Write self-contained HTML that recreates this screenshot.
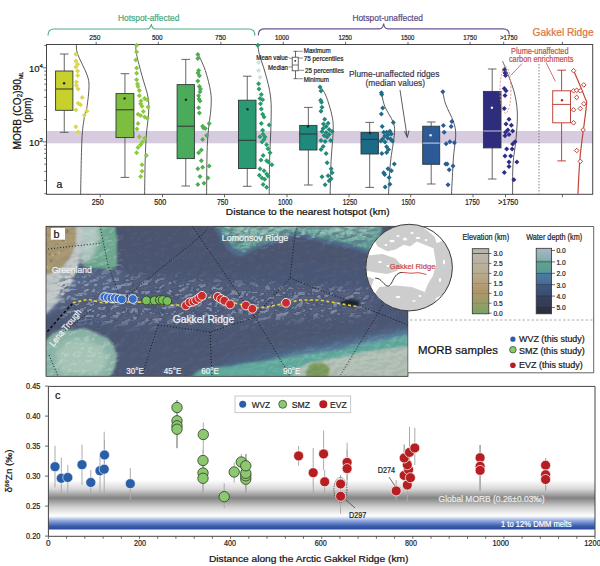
<!DOCTYPE html>
<html><head><meta charset="utf-8"><style>
html,body{margin:0;padding:0;background:#fff;width:600px;height:566px;overflow:hidden}
svg{display:block}
text{font-family:"Liberation Sans",sans-serif}
</style></head><body>
<svg width="600" height="566" viewBox="0 0 600 566">
<rect width="600" height="566" fill="#fff"/>
<rect x="46.5" y="131" width="546.2" height="12.3" fill="#d6cbdf"/>
<rect x="46.5" y="44.5" width="546.2" height="149.8" fill="none" stroke="#444" stroke-width="1"/>
<line x1="96.2" y1="41.8" x2="96.2" y2="44.5" stroke="#444" stroke-width="0.8"/>
<text x="94.8" y="40" font-size="7.6" text-anchor="middle" fill="#222" stroke="#222" stroke-width="0.22" textLength="11" lengthAdjust="spacingAndGlyphs" >250</text>
<line x1="158.3" y1="41.8" x2="158.3" y2="44.5" stroke="#444" stroke-width="0.8"/>
<text x="157.3" y="40" font-size="7.6" text-anchor="middle" fill="#222" stroke="#222" stroke-width="0.22" textLength="10.6" lengthAdjust="spacingAndGlyphs" >500</text>
<line x1="220.9" y1="41.8" x2="220.9" y2="44.5" stroke="#444" stroke-width="0.8"/>
<text x="220.5" y="40" font-size="7.6" text-anchor="middle" fill="#222" stroke="#222" stroke-width="0.22" textLength="11" lengthAdjust="spacingAndGlyphs" >750</text>
<line x1="283.3" y1="41.8" x2="283.3" y2="44.5" stroke="#444" stroke-width="0.8"/>
<text x="282" y="40" font-size="7.6" text-anchor="middle" fill="#222" stroke="#222" stroke-width="0.22" textLength="14" lengthAdjust="spacingAndGlyphs" >1000</text>
<line x1="345.6" y1="41.8" x2="345.6" y2="44.5" stroke="#444" stroke-width="0.8"/>
<text x="345.2" y="40" font-size="7.6" text-anchor="middle" fill="#222" stroke="#222" stroke-width="0.22" textLength="13.6" lengthAdjust="spacingAndGlyphs" >1250</text>
<line x1="408" y1="41.8" x2="408" y2="44.5" stroke="#444" stroke-width="0.8"/>
<text x="407.7" y="40" font-size="7.6" text-anchor="middle" fill="#222" stroke="#222" stroke-width="0.22" textLength="13.4" lengthAdjust="spacingAndGlyphs" >1500</text>
<line x1="470" y1="41.8" x2="470" y2="44.5" stroke="#444" stroke-width="0.8"/>
<text x="470" y="40" font-size="7.6" text-anchor="middle" fill="#222" stroke="#222" stroke-width="0.22" textLength="13.6" lengthAdjust="spacingAndGlyphs" >1750</text>
<line x1="503.7" y1="41.8" x2="503.7" y2="44.5" stroke="#444" stroke-width="0.8"/>
<text x="508.7" y="40" font-size="7.6" text-anchor="middle" fill="#222" stroke="#222" stroke-width="0.22" textLength="17.5" lengthAdjust="spacingAndGlyphs" >&gt;1750</text>
<line x1="562.4" y1="41.8" x2="562.4" y2="44.5" stroke="#444" stroke-width="0.8"/>
<line x1="100.3" y1="194.3" x2="100.3" y2="197.3" stroke="#444" stroke-width="0.8"/>
<text x="97.7" y="204.5" font-size="8.6" text-anchor="middle" fill="#222" stroke="#222" stroke-width="0.22" textLength="12" lengthAdjust="spacingAndGlyphs" >250</text>
<line x1="162.5" y1="194.3" x2="162.5" y2="197.3" stroke="#444" stroke-width="0.8"/>
<text x="160.3" y="204.5" font-size="8.6" text-anchor="middle" fill="#222" stroke="#222" stroke-width="0.22" textLength="12" lengthAdjust="spacingAndGlyphs" >500</text>
<line x1="224.5" y1="194.3" x2="224.5" y2="197.3" stroke="#444" stroke-width="0.8"/>
<text x="222.7" y="204.5" font-size="8.6" text-anchor="middle" fill="#222" stroke="#222" stroke-width="0.22" textLength="11.3" lengthAdjust="spacingAndGlyphs" >750</text>
<line x1="287" y1="194.3" x2="287" y2="197.3" stroke="#444" stroke-width="0.8"/>
<text x="285.2" y="204.5" font-size="8.6" text-anchor="middle" fill="#222" stroke="#222" stroke-width="0.22" textLength="14.5" lengthAdjust="spacingAndGlyphs" >1000</text>
<line x1="349" y1="194.3" x2="349" y2="197.3" stroke="#444" stroke-width="0.8"/>
<text x="350" y="204.5" font-size="8.6" text-anchor="middle" fill="#222" stroke="#222" stroke-width="0.22" textLength="14.5" lengthAdjust="spacingAndGlyphs" >1250</text>
<line x1="410.7" y1="194.3" x2="410.7" y2="197.3" stroke="#444" stroke-width="0.8"/>
<text x="408.3" y="204.5" font-size="8.6" text-anchor="middle" fill="#222" stroke="#222" stroke-width="0.22" textLength="13.5" lengthAdjust="spacingAndGlyphs" >1500</text>
<line x1="473" y1="194.3" x2="473" y2="197.3" stroke="#444" stroke-width="0.8"/>
<text x="472.5" y="204.5" font-size="8.6" text-anchor="middle" fill="#222" stroke="#222" stroke-width="0.22" textLength="14.5" lengthAdjust="spacingAndGlyphs" >1750</text>
<line x1="505.5" y1="194.3" x2="505.5" y2="197.3" stroke="#444" stroke-width="0.8"/>
<text x="508.3" y="204.5" font-size="8.6" text-anchor="middle" fill="#222" stroke="#222" stroke-width="0.22" textLength="20" lengthAdjust="spacingAndGlyphs" >&gt;1750</text>
<line x1="562.4" y1="194.3" x2="562.4" y2="197.3" stroke="#444" stroke-width="0.8"/>
<text x="225.8" y="215" font-size="9.6" text-anchor="start" fill="#111" stroke="#111" stroke-width="0.22" textLength="163.8" lengthAdjust="spacingAndGlyphs" >Distance to the nearest hotspot (km)</text>
<line x1="44.3" y1="193.7" x2="46.5" y2="193.7" stroke="#444" stroke-width="0.8"/>
<line x1="44.3" y1="180.6" x2="46.5" y2="180.6" stroke="#444" stroke-width="0.8"/>
<line x1="44.3" y1="171.4" x2="46.5" y2="171.4" stroke="#444" stroke-width="0.8"/>
<line x1="44.3" y1="164.2" x2="46.5" y2="164.2" stroke="#444" stroke-width="0.8"/>
<line x1="44.3" y1="158.3" x2="46.5" y2="158.3" stroke="#444" stroke-width="0.8"/>
<line x1="44.3" y1="153.4" x2="46.5" y2="153.4" stroke="#444" stroke-width="0.8"/>
<line x1="44.3" y1="149.1" x2="46.5" y2="149.1" stroke="#444" stroke-width="0.8"/>
<line x1="44.3" y1="145.3" x2="46.5" y2="145.3" stroke="#444" stroke-width="0.8"/>
<line x1="43.0" y1="141.9" x2="46.5" y2="141.9" stroke="#444" stroke-width="0.8"/>
<line x1="44.3" y1="119.6" x2="46.5" y2="119.6" stroke="#444" stroke-width="0.8"/>
<line x1="44.3" y1="106.5" x2="46.5" y2="106.5" stroke="#444" stroke-width="0.8"/>
<line x1="44.3" y1="97.3" x2="46.5" y2="97.3" stroke="#444" stroke-width="0.8"/>
<line x1="44.3" y1="90.1" x2="46.5" y2="90.1" stroke="#444" stroke-width="0.8"/>
<line x1="44.3" y1="84.2" x2="46.5" y2="84.2" stroke="#444" stroke-width="0.8"/>
<line x1="44.3" y1="79.3" x2="46.5" y2="79.3" stroke="#444" stroke-width="0.8"/>
<line x1="44.3" y1="75.0" x2="46.5" y2="75.0" stroke="#444" stroke-width="0.8"/>
<line x1="44.3" y1="71.2" x2="46.5" y2="71.2" stroke="#444" stroke-width="0.8"/>
<line x1="43.0" y1="67.8" x2="46.5" y2="67.8" stroke="#444" stroke-width="0.8"/>
<line x1="44.3" y1="45.5" x2="46.5" y2="45.5" stroke="#444" stroke-width="0.8"/>
<text x="29" y="71.8" font-size="9.5" fill="#111" stroke="#111" stroke-width="0.2">10<tspan font-size="6" dy="-3.8">4</tspan></text>
<text x="29" y="145.8" font-size="9.5" fill="#111" stroke="#111" stroke-width="0.2">10<tspan font-size="6" dy="-3.8">3</tspan></text>
<text font-size="10.6" text-anchor="middle" fill="#111" stroke="#111" stroke-width="0.22" transform="translate(20.8,110.6) rotate(-90)" textLength="77.7" lengthAdjust="spacingAndGlyphs">MORB (CO<tspan font-size="6.5" dy="1.5">2</tspan><tspan dy="-1.5">)90</tspan><tspan font-size="5.5" dy="2.5">ML</tspan></text>
<text x="0" y="0" font-size="10.6" text-anchor="middle" fill="#111" stroke="#111" stroke-width="0.22" textLength="25.6" lengthAdjust="spacingAndGlyphs" transform="translate(30.8,110.2) rotate(-90)">(ppm)</text>
<text x="56.5" y="187.5" font-size="10.5" text-anchor="start" fill="#111" stroke="#111" stroke-width="0.22" >a</text>
<path d="M48,35.5 Q48,29 54,29 L147,29 Q150.5,29 151.3,24 Q152,29 155.5,29 L249,29 Q254.8,29 254.8,35.5" fill="none" stroke="#4fae84" stroke-width="1.2"/>
<text x="118" y="21" font-size="9.8" text-anchor="start" fill="#47a87e" stroke="#47a87e" stroke-width="0.22" textLength="61.4" lengthAdjust="spacingAndGlyphs" >Hotspot-affected</text>
<path d="M258.3,35.5 Q258.3,28.8 264,28.8 L379.5,28.8 Q383,28.8 383.6,23.5 Q384.2,28.8 388,28.8 L503,28.8 Q509.2,28.8 509.2,34.5" fill="none" stroke="#6a5496" stroke-width="1.2"/>
<text x="352.4" y="21" font-size="9.8" text-anchor="start" fill="#5a4a84" stroke="#5a4a84" stroke-width="0.22" textLength="70.6" lengthAdjust="spacingAndGlyphs" >Hotspot-unaffected</text>
<text x="532.5" y="35.6" font-size="10.4" text-anchor="start" fill="#dc7443" stroke="#dc7443" stroke-width="0.22" textLength="61.1" lengthAdjust="spacingAndGlyphs" >Gakkel Ridge</text>
<line x1="64.25" y1="54" x2="64.25" y2="132.3" stroke="#555" stroke-width="0.9"/>
<line x1="59.95" y1="54" x2="68.55" y2="54" stroke="#555" stroke-width="0.9"/>
<line x1="59.95" y1="132.3" x2="68.55" y2="132.3" stroke="#555" stroke-width="0.9"/>
<rect x="55.6" y="71" width="17.3" height="39.3" fill="#c8d02c" stroke="#2d3a3a" stroke-width="0.9"/>
<line x1="55.6" y1="89" x2="72.9" y2="89" stroke="#333" stroke-width="1"/>
<circle cx="64.1" cy="83.2" r="1.2" fill="#222"/>
<line x1="124.95" y1="73.7" x2="124.95" y2="177.4" stroke="#555" stroke-width="0.9"/>
<line x1="120.65" y1="73.7" x2="129.25" y2="73.7" stroke="#555" stroke-width="0.9"/>
<line x1="120.65" y1="177.4" x2="129.25" y2="177.4" stroke="#555" stroke-width="0.9"/>
<rect x="116" y="93.6" width="17.9" height="44.0" fill="#7dbd40" stroke="#2d3a3a" stroke-width="0.9"/>
<line x1="116" y1="109.8" x2="133.9" y2="109.8" stroke="#333" stroke-width="1"/>
<circle cx="124.6" cy="98.4" r="1.2" fill="#222"/>
<line x1="185.75" y1="59.4" x2="185.75" y2="186" stroke="#555" stroke-width="0.9"/>
<line x1="181.45" y1="59.4" x2="190.05" y2="59.4" stroke="#555" stroke-width="0.9"/>
<line x1="181.45" y1="186" x2="190.05" y2="186" stroke="#555" stroke-width="0.9"/>
<rect x="177.1" y="84.6" width="17.3" height="74.0" fill="#4aab5a" stroke="#2d3a3a" stroke-width="0.9"/>
<line x1="177.1" y1="126.2" x2="194.4" y2="126.2" stroke="#333" stroke-width="1"/>
<circle cx="185.9" cy="99.7" r="1.2" fill="#222"/>
<line x1="247.25" y1="76.2" x2="247.25" y2="186.3" stroke="#555" stroke-width="0.9"/>
<line x1="242.95" y1="76.2" x2="251.55" y2="76.2" stroke="#555" stroke-width="0.9"/>
<line x1="242.95" y1="186.3" x2="251.55" y2="186.3" stroke="#555" stroke-width="0.9"/>
<rect x="238.5" y="100.2" width="17.5" height="68.3" fill="#2a9a72" stroke="#2d3a3a" stroke-width="0.9"/>
<line x1="238.5" y1="140.3" x2="256" y2="140.3" stroke="#333" stroke-width="1"/>
<circle cx="247.5" cy="109.2" r="1.2" fill="#222"/>
<line x1="308.35" y1="107.4" x2="308.35" y2="185" stroke="#555" stroke-width="0.9"/>
<line x1="304.05" y1="107.4" x2="312.65000000000003" y2="107.4" stroke="#555" stroke-width="0.9"/>
<line x1="304.05" y1="185" x2="312.65000000000003" y2="185" stroke="#555" stroke-width="0.9"/>
<rect x="299.7" y="125.4" width="17.3" height="24.6" fill="#1e8a7e" stroke="#2d3a3a" stroke-width="0.9"/>
<line x1="299.7" y1="134" x2="317" y2="134" stroke="#333" stroke-width="1"/>
<circle cx="308" cy="126.5" r="1.2" fill="#222"/>
<line x1="369.7" y1="122.4" x2="369.7" y2="187.4" stroke="#555" stroke-width="0.9"/>
<line x1="365.4" y1="122.4" x2="374.0" y2="122.4" stroke="#555" stroke-width="0.9"/>
<line x1="365.4" y1="187.4" x2="374.0" y2="187.4" stroke="#555" stroke-width="0.9"/>
<rect x="361" y="132.6" width="17.4" height="21.4" fill="#1b6a86" stroke="#2d3a3a" stroke-width="0.9"/>
<line x1="361" y1="139.4" x2="378.4" y2="139.4" stroke="#333" stroke-width="1"/>
<circle cx="370" cy="133" r="1.2" fill="#222"/>
<line x1="431.2" y1="122" x2="431.2" y2="184" stroke="#555" stroke-width="0.9"/>
<line x1="426.9" y1="122" x2="435.5" y2="122" stroke="#555" stroke-width="0.9"/>
<line x1="426.9" y1="184" x2="435.5" y2="184" stroke="#555" stroke-width="0.9"/>
<rect x="422.7" y="126.2" width="17.0" height="38.1" fill="#2b5a96" stroke="#2d3a3a" stroke-width="0.9"/>
<line x1="422.7" y1="143.1" x2="439.7" y2="143.1" stroke="#cfd8e8" stroke-width="1"/>
<circle cx="430.6" cy="135.2" r="1.2" fill="#eef"/>
<line x1="492.2" y1="69" x2="492.2" y2="179" stroke="#555" stroke-width="0.9"/>
<line x1="487.9" y1="69" x2="496.5" y2="69" stroke="#555" stroke-width="0.9"/>
<line x1="487.9" y1="179" x2="496.5" y2="179" stroke="#555" stroke-width="0.9"/>
<rect x="483.4" y="91.4" width="17.6" height="56.5" fill="#2e2c7c" stroke="#2d3a3a" stroke-width="0.9"/>
<line x1="483.4" y1="131" x2="501" y2="131" stroke="#c9c4e0" stroke-width="1"/>
<circle cx="491.9" cy="107.8" r="1.2" fill="#eef"/>
<line x1="561.6" y1="70.2" x2="561.6" y2="90.8" stroke="#c0453a" stroke-width="1"/>
<line x1="561.6" y1="122.8" x2="561.6" y2="160.9" stroke="#c0453a" stroke-width="1"/>
<line x1="557.3000000000001" y1="70.2" x2="565.9" y2="70.2" stroke="#c0453a" stroke-width="1"/>
<line x1="557.3000000000001" y1="160.9" x2="565.9" y2="160.9" stroke="#c0453a" stroke-width="1"/>
<rect x="552.7" y="90.8" width="17.8" height="32.0" fill="#fff" stroke="#c0453a" stroke-width="1"/>
<line x1="552.7" y1="104.4" x2="570.5" y2="104.4" stroke="#c0453a" stroke-width="1"/>
<circle cx="562" cy="100.2" r="1.2" fill="#b0202a"/>
<line x1="539" y1="64" x2="539" y2="193.8" stroke="#666" stroke-width="0.8" stroke-dasharray="1.5,1.5"/>
<path d="M76.4,44.5 C76.6,46.1 75.8,49.0 77.6,54.0 C79.3,59.0 85.0,69.1 86.9,74.5 C88.8,79.9 89.0,81.0 89.0,86.4 C89.0,91.8 87.8,101.6 87.0,106.7 C86.2,111.8 85.2,111.5 84.4,117.0 C83.6,122.5 82.5,127.1 81.9,140.0 C81.3,152.9 80.8,185.2 80.6,194.3" fill="none" stroke="#333" stroke-width="0.8"/>
<path d="M135.8,46 C135.9,47.4 135.6,49.6 136.6,54.6 C137.6,59.6 140.1,68.7 142.0,75.8 C143.9,82.9 146.9,90.8 148.0,97.0 C149.1,103.2 148.9,106.8 148.6,113.0 C148.3,119.2 147.0,126.2 146.4,134.0 C145.8,141.8 145.5,149.9 145.2,160.0 C144.9,170.1 144.7,188.6 144.6,194.3" fill="none" stroke="#333" stroke-width="0.8"/>
<path d="M197.8,53.3 C199.1,56.2 203.2,64.1 205.3,70.5 C207.4,76.9 209.7,85.5 210.6,91.7 C211.5,97.9 211.4,100.7 211.0,107.7 C210.6,114.8 208.7,125.3 208.0,134.0 C207.3,142.7 207.1,149.9 206.9,160.0 C206.7,170.1 206.7,188.6 206.6,194.3" fill="none" stroke="#333" stroke-width="0.8"/>
<path d="M258,46 C258.2,47.4 258.2,50.1 259.4,54.6 C260.6,59.1 263.4,66.1 265.3,73.2 C267.2,80.3 269.7,88.6 270.6,97.0 C271.6,105.4 271.2,113.1 271.0,123.6 C270.8,134.1 269.9,148.2 269.6,160.0 C269.3,171.8 269.3,188.6 269.2,194.3" fill="none" stroke="#333" stroke-width="0.8"/>
<path d="M320,86 C321.0,87.7 324.1,91.0 326.1,96.1 C328.1,101.1 330.9,110.2 332.1,116.3 C333.3,122.3 333.3,125.0 333.1,132.4 C332.9,139.8 331.6,150.3 331.1,160.6 C330.6,170.9 330.3,188.7 330.1,194.3" fill="none" stroke="#333" stroke-width="0.8"/>
<path d="M381.4,91.7 C381.9,94.1 382.7,101.1 384.7,106.2 C386.7,111.3 391.7,117.8 393.3,122.6 C394.9,127.4 394.8,128.5 394.3,135.1 C393.8,141.7 391.5,152.2 390.5,162.1 C389.5,172.0 388.8,188.9 388.5,194.3" fill="none" stroke="#333" stroke-width="0.8"/>
<path d="M442.8,91.7 C443.3,93.8 443.9,99.3 445.7,104.3 C447.5,109.3 451.7,116.5 453.4,121.6 C455.1,126.7 455.7,129.0 455.7,135.1 C455.7,141.2 454.1,148.3 453.4,158.2 C452.7,168.1 451.8,188.3 451.5,194.3" fill="none" stroke="#333" stroke-width="0.8"/>
<path d="M502.6,61.2 C503.1,62.4 503.6,63.4 505.5,68.3 C507.4,73.2 511.8,83.5 513.8,90.8 C515.8,98.1 516.9,104.2 517.3,112.1 C517.7,120.0 516.8,129.5 516.1,138.2 C515.4,146.9 513.6,155.0 513.0,164.3 C512.4,173.7 512.7,189.3 512.6,194.3" fill="none" stroke="#333" stroke-width="0.8"/>
<path d="M573.2,69.5 C575.2,74.2 582.8,91.6 585.0,97.9 C587.2,104.2 587.0,97.9 586.2,107.4 C585.4,116.9 581.7,140.3 580.3,154.8 C578.9,169.3 578.3,187.7 577.9,194.3" fill="none" stroke="#c0453a" stroke-width="1.2"/>
<path d="M75.9,51.7 L78.4,54.2 L75.9,56.7 L73.4,54.2 Z" fill="#dcd64e"/>
<path d="M75.9,58.5 L78.4,61.0 L75.9,63.5 L73.4,61.0 Z" fill="#dcd64e"/>
<path d="M77.6,61.8 L80.1,64.3 L77.6,66.8 L75.1,64.3 Z" fill="#dcd64e"/>
<path d="M75.9,64.4 L78.4,66.9 L75.9,69.4 L73.4,66.9 Z" fill="#dcd64e"/>
<path d="M77.6,68.6 L80.1,71.1 L77.6,73.6 L75.1,71.1 Z" fill="#dcd64e"/>
<path d="M77.6,72.9 L80.1,75.4 L77.6,77.9 L75.1,75.4 Z" fill="#dcd64e"/>
<path d="M76.4,79.6 L78.9,82.1 L76.4,84.6 L73.9,82.1 Z" fill="#dcd64e"/>
<path d="M76.4,83.0 L78.9,85.5 L76.4,88.0 L73.9,85.5 Z" fill="#dcd64e"/>
<path d="M78.1,86.4 L80.6,88.9 L78.1,91.4 L75.6,88.9 Z" fill="#dcd64e"/>
<path d="M82.2,94.9 L84.7,97.4 L82.2,99.9 L79.7,97.4 Z" fill="#dcd64e"/>
<path d="M78.1,100.8 L80.6,103.3 L78.1,105.8 L75.6,103.3 Z" fill="#dcd64e"/>
<path d="M80.5,102.2 L83.0,104.7 L80.5,107.2 L78.0,104.7 Z" fill="#dcd64e"/>
<path d="M75.9,107.6 L78.4,110.1 L75.9,112.6 L73.4,110.1 Z" fill="#dcd64e"/>
<path d="M86.9,108.5 L89.4,111.0 L86.9,113.5 L84.4,111.0 Z" fill="#dcd64e"/>
<path d="M84.4,112.7 L86.9,115.2 L84.4,117.7 L81.9,115.2 Z" fill="#dcd64e"/>
<path d="M75.9,124.2 L78.4,126.7 L75.9,129.2 L73.4,126.7 Z" fill="#dcd64e"/>
<path d="M78.1,129.6 L80.6,132.1 L78.1,134.6 L75.6,132.1 Z" fill="#dcd64e"/>
<path d="M136.6,42.8 L139.1,45.3 L136.6,47.8 L134.1,45.3 Z" fill="#8ec83e"/>
<path d="M136.6,49.5 L139.1,52.0 L136.6,54.5 L134.1,52.0 Z" fill="#8ec83e"/>
<path d="M135.8,57.5 L138.3,60.0 L135.8,62.5 L133.3,60.0 Z" fill="#8ec83e"/>
<path d="M136.6,65.4 L139.1,67.9 L136.6,70.4 L134.1,67.9 Z" fill="#8ec83e"/>
<path d="M136.6,70.7 L139.1,73.2 L136.6,75.7 L134.1,73.2 Z" fill="#8ec83e"/>
<path d="M136.6,77.3 L139.1,79.8 L136.6,82.3 L134.1,79.8 Z" fill="#8ec83e"/>
<path d="M138.0,83.9 L140.5,86.4 L138.0,88.9 L135.5,86.4 Z" fill="#8ec83e"/>
<path d="M139.3,87.9 L141.8,90.4 L139.3,92.9 L136.8,90.4 Z" fill="#8ec83e"/>
<path d="M139.3,93.2 L141.8,95.7 L139.3,98.2 L136.8,95.7 Z" fill="#8ec83e"/>
<path d="M144.6,95.9 L147.1,98.4 L144.6,100.9 L142.1,98.4 Z" fill="#8ec83e"/>
<path d="M147.2,97.2 L149.7,99.7 L147.2,102.2 L144.7,99.7 Z" fill="#8ec83e"/>
<path d="M140.6,101.2 L143.1,103.7 L140.6,106.2 L138.1,103.7 Z" fill="#8ec83e"/>
<path d="M142.0,103.8 L144.5,106.3 L142.0,108.8 L139.5,106.3 Z" fill="#8ec83e"/>
<path d="M148.0,104.6 L150.5,107.1 L148.0,109.6 L145.5,107.1 Z" fill="#8ec83e"/>
<path d="M143.3,109.1 L145.8,111.6 L143.3,114.1 L140.8,111.6 Z" fill="#8ec83e"/>
<path d="M138.0,111.8 L140.5,114.3 L138.0,116.8 L135.5,114.3 Z" fill="#8ec83e"/>
<path d="M140.6,113.1 L143.1,115.6 L140.6,118.1 L138.1,115.6 Z" fill="#8ec83e"/>
<path d="M144.6,114.5 L147.1,117.0 L144.6,119.5 L142.1,117.0 Z" fill="#8ec83e"/>
<path d="M147.2,115.8 L149.7,118.3 L147.2,120.8 L144.7,118.3 Z" fill="#8ec83e"/>
<path d="M138.0,121.1 L140.5,123.6 L138.0,126.1 L135.5,123.6 Z" fill="#8ec83e"/>
<path d="M139.3,134.3 L141.8,136.8 L139.3,139.3 L136.8,136.8 Z" fill="#8ec83e"/>
<path d="M144.6,135.7 L147.1,138.2 L144.6,140.7 L142.1,138.2 Z" fill="#8ec83e"/>
<path d="M140.6,142.3 L143.1,144.8 L140.6,147.3 L138.1,144.8 Z" fill="#8ec83e"/>
<path d="M138.0,144.9 L140.5,147.4 L138.0,149.9 L135.5,147.4 Z" fill="#8ec83e"/>
<path d="M136.6,150.3 L139.1,152.8 L136.6,155.3 L134.1,152.8 Z" fill="#8ec83e"/>
<path d="M146.4,152.9 L148.9,155.4 L146.4,157.9 L143.9,155.4 Z" fill="#8ec83e"/>
<path d="M142.0,162.2 L144.5,164.7 L142.0,167.2 L139.5,164.7 Z" fill="#8ec83e"/>
<path d="M142.0,168.8 L144.5,171.3 L142.0,173.8 L139.5,171.3 Z" fill="#8ec83e"/>
<path d="M140.6,174.1 L143.1,176.6 L140.6,179.1 L138.1,176.6 Z" fill="#8ec83e"/>
<path d="M137.5,81.5 L140.0,84.0 L137.5,86.5 L135.0,84.0 Z" fill="#8ec83e"/>
<path d="M141.0,98.5 L143.5,101.0 L141.0,103.5 L138.5,101.0 Z" fill="#8ec83e"/>
<path d="M137.0,126.5 L139.5,129.0 L137.0,131.5 L134.5,129.0 Z" fill="#8ec83e"/>
<path d="M142.5,139.5 L145.0,142.0 L142.5,144.5 L140.0,142.0 Z" fill="#8ec83e"/>
<path d="M197.8,52.1 L200.3,54.6 L197.8,57.1 L195.3,54.6 Z" fill="#4cae50"/>
<path d="M197.8,56.1 L200.3,58.6 L197.8,61.1 L195.3,58.6 Z" fill="#4cae50"/>
<path d="M198.6,68.0 L201.1,70.5 L198.6,73.0 L196.1,70.5 Z" fill="#4cae50"/>
<path d="M199.4,73.3 L201.9,75.8 L199.4,78.3 L196.9,75.8 Z" fill="#4cae50"/>
<path d="M197.8,78.6 L200.3,81.1 L197.8,83.6 L195.3,81.1 Z" fill="#4cae50"/>
<path d="M199.4,83.9 L201.9,86.4 L199.4,88.9 L196.9,86.4 Z" fill="#4cae50"/>
<path d="M200.0,89.2 L202.5,91.7 L200.0,94.2 L197.5,91.7 Z" fill="#4cae50"/>
<path d="M198.6,93.2 L201.1,95.7 L198.6,98.2 L196.1,95.7 Z" fill="#4cae50"/>
<path d="M200.0,98.5 L202.5,101.0 L200.0,103.5 L197.5,101.0 Z" fill="#4cae50"/>
<path d="M198.6,105.2 L201.1,107.7 L198.6,110.2 L196.1,107.7 Z" fill="#4cae50"/>
<path d="M199.4,110.5 L201.9,113.0 L199.4,115.5 L196.9,113.0 Z" fill="#4cae50"/>
<path d="M202.6,123.7 L205.1,126.2 L202.6,128.7 L200.1,126.2 Z" fill="#4cae50"/>
<path d="M205.3,125.9 L207.8,128.4 L205.3,130.9 L202.8,128.4 Z" fill="#4cae50"/>
<path d="M209.2,121.1 L211.7,123.6 L209.2,126.1 L206.7,123.6 Z" fill="#4cae50"/>
<path d="M206.6,133.0 L209.1,135.5 L206.6,138.0 L204.1,135.5 Z" fill="#4cae50"/>
<path d="M202.6,137.0 L205.1,139.5 L202.6,142.0 L200.1,139.5 Z" fill="#4cae50"/>
<path d="M201.3,147.6 L203.8,150.1 L201.3,152.6 L198.8,150.1 Z" fill="#4cae50"/>
<path d="M198.6,150.3 L201.1,152.8 L198.6,155.3 L196.1,152.8 Z" fill="#4cae50"/>
<path d="M201.3,158.2 L203.8,160.7 L201.3,163.2 L198.8,160.7 Z" fill="#4cae50"/>
<path d="M197.8,166.2 L200.3,168.7 L197.8,171.2 L195.3,168.7 Z" fill="#4cae50"/>
<path d="M202.6,164.8 L205.1,167.3 L202.6,169.8 L200.1,167.3 Z" fill="#4cae50"/>
<path d="M209.2,163.5 L211.7,166.0 L209.2,168.5 L206.7,166.0 Z" fill="#4cae50"/>
<path d="M200.0,174.1 L202.5,176.6 L200.0,179.1 L197.5,176.6 Z" fill="#4cae50"/>
<path d="M207.9,175.5 L210.4,178.0 L207.9,180.5 L205.4,178.0 Z" fill="#4cae50"/>
<path d="M197.8,182.1 L200.3,184.6 L197.8,187.1 L195.3,184.6 Z" fill="#4cae50"/>
<path d="M204.0,180.8 L206.5,183.3 L204.0,185.8 L201.5,183.3 Z" fill="#4cae50"/>
<path d="M198.0,70.5 L200.5,73.0 L198.0,75.5 L195.5,73.0 Z" fill="#4cae50"/>
<path d="M200.5,86.5 L203.0,89.0 L200.5,91.5 L198.0,89.0 Z" fill="#4cae50"/>
<path d="M203.5,125.5 L206.0,128.0 L203.5,130.5 L201.0,128.0 Z" fill="#4cae50"/>
<path d="M199.0,96.5 L201.5,99.0 L199.0,101.5 L196.5,99.0 Z" fill="#4cae50"/>
<path d="M257.8,42.8 L260.3,45.3 L257.8,47.8 L255.3,45.3 Z" fill="#2a9c6c"/>
<path d="M258.6,81.3 L261.1,83.8 L258.6,86.3 L256.1,83.8 Z" fill="#2a9c6c"/>
<path d="M261.3,91.9 L263.8,94.4 L261.3,96.9 L258.8,94.4 Z" fill="#2a9c6c"/>
<path d="M260.0,95.9 L262.5,98.4 L260.0,100.9 L257.5,98.4 Z" fill="#2a9c6c"/>
<path d="M262.6,97.2 L265.1,99.7 L262.6,102.2 L260.1,99.7 Z" fill="#2a9c6c"/>
<path d="M260.5,101.2 L263.0,103.7 L260.5,106.2 L258.0,103.7 Z" fill="#2a9c6c"/>
<path d="M261.3,106.5 L263.8,109.0 L261.3,111.5 L258.8,109.0 Z" fill="#2a9c6c"/>
<path d="M262.6,111.8 L265.1,114.3 L262.6,116.8 L260.1,114.3 Z" fill="#2a9c6c"/>
<path d="M264.0,114.5 L266.5,117.0 L264.0,119.5 L261.5,117.0 Z" fill="#2a9c6c"/>
<path d="M261.3,121.1 L263.8,123.6 L261.3,126.1 L258.8,123.6 Z" fill="#2a9c6c"/>
<path d="M269.2,122.4 L271.7,124.9 L269.2,127.4 L266.7,124.9 Z" fill="#2a9c6c"/>
<path d="M262.6,127.7 L265.1,130.2 L262.6,132.7 L260.1,130.2 Z" fill="#2a9c6c"/>
<path d="M263.1,131.7 L265.6,134.2 L263.1,136.7 L260.6,134.2 Z" fill="#2a9c6c"/>
<path d="M260.0,134.3 L262.5,136.8 L260.0,139.3 L257.5,136.8 Z" fill="#2a9c6c"/>
<path d="M264.0,137.0 L266.5,139.5 L264.0,142.0 L261.5,139.5 Z" fill="#2a9c6c"/>
<path d="M262.0,139.6 L264.5,142.1 L262.0,144.6 L259.5,142.1 Z" fill="#2a9c6c"/>
<path d="M266.6,142.3 L269.1,144.8 L266.6,147.3 L264.1,144.8 Z" fill="#2a9c6c"/>
<path d="M268.0,146.3 L270.5,148.8 L268.0,151.3 L265.5,148.8 Z" fill="#2a9c6c"/>
<path d="M270.0,150.3 L272.5,152.8 L270.0,155.3 L267.5,152.8 Z" fill="#2a9c6c"/>
<path d="M263.1,152.9 L265.6,155.4 L263.1,157.9 L260.6,155.4 Z" fill="#2a9c6c"/>
<path d="M266.6,158.2 L269.1,160.7 L266.6,163.2 L264.1,160.7 Z" fill="#2a9c6c"/>
<path d="M268.4,159.5 L270.9,162.0 L268.4,164.5 L265.9,162.0 Z" fill="#2a9c6c"/>
<path d="M271.9,162.2 L274.4,164.7 L271.9,167.2 L269.4,164.7 Z" fill="#2a9c6c"/>
<path d="M260.0,166.2 L262.5,168.7 L260.0,171.2 L257.5,168.7 Z" fill="#2a9c6c"/>
<path d="M264.0,168.3 L266.5,170.8 L264.0,173.3 L261.5,170.8 Z" fill="#2a9c6c"/>
<path d="M266.6,171.5 L269.1,174.0 L266.6,176.5 L264.1,174.0 Z" fill="#2a9c6c"/>
<path d="M259.4,172.8 L261.9,175.3 L259.4,177.8 L256.9,175.3 Z" fill="#2a9c6c"/>
<path d="M262.0,175.5 L264.5,178.0 L262.0,180.5 L259.5,178.0 Z" fill="#2a9c6c"/>
<path d="M264.7,176.8 L267.2,179.3 L264.7,181.8 L262.2,179.3 Z" fill="#2a9c6c"/>
<path d="M263.1,182.1 L265.6,184.6 L263.1,187.1 L260.6,184.6 Z" fill="#2a9c6c"/>
<path d="M266.6,184.7 L269.1,187.2 L266.6,189.7 L264.1,187.2 Z" fill="#2a9c6c"/>
<path d="M259.0,86.5 L261.5,89.0 L259.0,91.5 L256.5,89.0 Z" fill="#2a9c6c"/>
<path d="M265.0,134.5 L267.5,137.0 L265.0,139.5 L262.5,137.0 Z" fill="#2a9c6c"/>
<path d="M261.0,157.5 L263.5,160.0 L261.0,162.5 L258.5,160.0 Z" fill="#2a9c6c"/>
<path d="M268.0,173.5 L270.5,176.0 L268.0,178.5 L265.5,176.0 Z" fill="#2a9c6c"/>
<path d="M320.0,84.6 L322.5,87.1 L320.0,89.6 L317.5,87.1 Z" fill="#20887a"/>
<path d="M321.0,88.6 L323.5,91.1 L321.0,93.6 L318.5,91.1 Z" fill="#20887a"/>
<path d="M320.6,97.7 L323.1,100.2 L320.6,102.7 L318.1,100.2 Z" fill="#20887a"/>
<path d="M321.5,99.7 L324.0,102.2 L321.5,104.7 L319.0,102.2 Z" fill="#20887a"/>
<path d="M322.0,104.7 L324.5,107.2 L322.0,109.7 L319.5,107.2 Z" fill="#20887a"/>
<path d="M321.0,108.8 L323.5,111.3 L321.0,113.8 L318.5,111.3 Z" fill="#20887a"/>
<path d="M324.7,116.8 L327.2,119.3 L324.7,121.8 L322.2,119.3 Z" fill="#20887a"/>
<path d="M328.1,120.8 L330.6,123.3 L328.1,125.8 L325.6,123.3 Z" fill="#20887a"/>
<path d="M326.1,123.9 L328.6,126.4 L326.1,128.9 L323.6,126.4 Z" fill="#20887a"/>
<path d="M323.1,125.9 L325.6,128.4 L323.1,130.9 L320.6,128.4 Z" fill="#20887a"/>
<path d="M329.1,126.9 L331.6,129.4 L329.1,131.9 L326.6,129.4 Z" fill="#20887a"/>
<path d="M322.0,128.9 L324.5,131.4 L322.0,133.9 L319.5,131.4 Z" fill="#20887a"/>
<path d="M326.1,129.9 L328.6,132.4 L326.1,134.9 L323.6,132.4 Z" fill="#20887a"/>
<path d="M332.1,128.9 L334.6,131.4 L332.1,133.9 L329.6,131.4 Z" fill="#20887a"/>
<path d="M324.1,132.9 L326.6,135.4 L324.1,137.9 L321.6,135.4 Z" fill="#20887a"/>
<path d="M329.1,131.9 L331.6,134.4 L329.1,136.9 L326.6,134.4 Z" fill="#20887a"/>
<path d="M321.0,138.0 L323.5,140.5 L321.0,143.0 L318.5,140.5 Z" fill="#20887a"/>
<path d="M325.1,139.0 L327.6,141.5 L325.1,144.0 L322.6,141.5 Z" fill="#20887a"/>
<path d="M330.7,138.0 L333.2,140.5 L330.7,143.0 L328.2,140.5 Z" fill="#20887a"/>
<path d="M323.1,144.0 L325.6,146.5 L323.1,149.0 L320.6,146.5 Z" fill="#20887a"/>
<path d="M321.0,147.1 L323.5,149.6 L321.0,152.1 L318.5,149.6 Z" fill="#20887a"/>
<path d="M326.1,151.1 L328.6,153.6 L326.1,156.1 L323.6,153.6 Z" fill="#20887a"/>
<path d="M327.1,160.2 L329.6,162.7 L327.1,165.2 L324.6,162.7 Z" fill="#20887a"/>
<path d="M331.1,166.2 L333.6,168.7 L331.1,171.2 L328.6,168.7 Z" fill="#20887a"/>
<path d="M332.1,170.2 L334.6,172.7 L332.1,175.2 L329.6,172.7 Z" fill="#20887a"/>
<path d="M322.0,174.3 L324.5,176.8 L322.0,179.3 L319.5,176.8 Z" fill="#20887a"/>
<path d="M328.1,173.3 L330.6,175.8 L328.1,178.3 L325.6,175.8 Z" fill="#20887a"/>
<path d="M331.1,176.3 L333.6,178.8 L331.1,181.3 L328.6,178.8 Z" fill="#20887a"/>
<path d="M329.1,178.3 L331.6,180.8 L329.1,183.3 L326.6,180.8 Z" fill="#20887a"/>
<path d="M325.1,182.3 L327.6,184.8 L325.1,187.3 L322.6,184.8 Z" fill="#20887a"/>
<path d="M327.0,134.5 L329.5,137.0 L327.0,139.5 L324.5,137.0 Z" fill="#20887a"/>
<path d="M323.5,121.5 L326.0,124.0 L323.5,126.5 L321.0,124.0 Z" fill="#20887a"/>
<path d="M381.4,90.2 L383.9,92.7 L381.4,95.2 L378.9,92.7 Z" fill="#1d6c88"/>
<path d="M381.8,92.1 L384.3,94.6 L381.8,97.1 L379.3,94.6 Z" fill="#1d6c88"/>
<path d="M382.7,105.6 L385.2,108.1 L382.7,110.6 L380.2,108.1 Z" fill="#1d6c88"/>
<path d="M381.4,111.4 L383.9,113.9 L381.4,116.4 L378.9,113.9 Z" fill="#1d6c88"/>
<path d="M393.3,120.1 L395.8,122.6 L393.3,125.1 L390.8,122.6 Z" fill="#1d6c88"/>
<path d="M382.2,123.9 L384.7,126.4 L382.2,128.9 L379.7,126.4 Z" fill="#1d6c88"/>
<path d="M383.7,129.7 L386.2,132.2 L383.7,134.7 L381.2,132.2 Z" fill="#1d6c88"/>
<path d="M386.6,129.7 L389.1,132.2 L386.6,134.7 L384.1,132.2 Z" fill="#1d6c88"/>
<path d="M389.9,128.7 L392.4,131.2 L389.9,133.7 L387.4,131.2 Z" fill="#1d6c88"/>
<path d="M391.4,131.6 L393.9,134.1 L391.4,136.6 L388.9,134.1 Z" fill="#1d6c88"/>
<path d="M384.7,133.6 L387.2,136.1 L384.7,138.6 L382.2,136.1 Z" fill="#1d6c88"/>
<path d="M382.7,136.5 L385.2,139.0 L382.7,141.5 L380.2,139.0 Z" fill="#1d6c88"/>
<path d="M387.6,135.5 L390.1,138.0 L387.6,140.5 L385.1,138.0 Z" fill="#1d6c88"/>
<path d="M390.5,136.5 L393.0,139.0 L390.5,141.5 L388.0,139.0 Z" fill="#1d6c88"/>
<path d="M392.4,138.4 L394.9,140.9 L392.4,143.4 L389.9,140.9 Z" fill="#1d6c88"/>
<path d="M380.8,138.4 L383.3,140.9 L380.8,143.4 L378.3,140.9 Z" fill="#1d6c88"/>
<path d="M386.6,144.2 L389.1,146.7 L386.6,149.2 L384.1,146.7 Z" fill="#1d6c88"/>
<path d="M388.5,147.0 L391.0,149.5 L388.5,152.0 L386.0,149.5 Z" fill="#1d6c88"/>
<path d="M386.6,149.9 L389.1,152.4 L386.6,154.9 L384.1,152.4 Z" fill="#1d6c88"/>
<path d="M381.8,150.9 L384.3,153.4 L381.8,155.9 L379.3,153.4 Z" fill="#1d6c88"/>
<path d="M394.3,161.5 L396.8,164.0 L394.3,166.5 L391.8,164.0 Z" fill="#1d6c88"/>
<path d="M388.0,166.3 L390.5,168.8 L388.0,171.3 L385.5,168.8 Z" fill="#1d6c88"/>
<path d="M391.4,168.2 L393.9,170.7 L391.4,173.2 L388.9,170.7 Z" fill="#1d6c88"/>
<path d="M383.7,170.2 L386.2,172.7 L383.7,175.2 L381.2,172.7 Z" fill="#1d6c88"/>
<path d="M384.7,172.1 L387.2,174.6 L384.7,177.1 L382.2,174.6 Z" fill="#1d6c88"/>
<path d="M389.1,175.0 L391.6,177.5 L389.1,180.0 L386.6,177.5 Z" fill="#1d6c88"/>
<path d="M389.9,181.7 L392.4,184.2 L389.9,186.7 L387.4,184.2 Z" fill="#1d6c88"/>
<path d="M385.2,184.6 L387.7,187.1 L385.2,189.6 L382.7,187.1 Z" fill="#1d6c88"/>
<path d="M388.0,132.5 L390.5,135.0 L388.0,137.5 L385.5,135.0 Z" fill="#1d6c88"/>
<path d="M385.0,139.5 L387.5,142.0 L385.0,144.5 L382.5,142.0 Z" fill="#1d6c88"/>
<path d="M442.8,89.2 L445.3,91.7 L442.8,94.2 L440.3,91.7 Z" fill="#2a5a98"/>
<path d="M451.9,119.1 L454.4,121.6 L451.9,124.1 L449.4,121.6 Z" fill="#2a5a98"/>
<path d="M443.4,123.0 L445.9,125.5 L443.4,128.0 L440.9,125.5 Z" fill="#2a5a98"/>
<path d="M451.1,123.9 L453.6,126.4 L451.1,128.9 L448.6,126.4 Z" fill="#2a5a98"/>
<path d="M444.2,129.7 L446.7,132.2 L444.2,134.7 L441.7,132.2 Z" fill="#2a5a98"/>
<path d="M446.1,141.3 L448.6,143.8 L446.1,146.3 L443.6,143.8 Z" fill="#2a5a98"/>
<path d="M449.9,139.3 L452.4,141.8 L449.9,144.3 L447.4,141.8 Z" fill="#2a5a98"/>
<path d="M454.4,140.3 L456.9,142.8 L454.4,145.3 L451.9,142.8 Z" fill="#2a5a98"/>
<path d="M445.7,161.5 L448.2,164.0 L445.7,166.5 L443.2,164.0 Z" fill="#2a5a98"/>
<path d="M447.2,161.5 L449.7,164.0 L447.2,166.5 L444.7,164.0 Z" fill="#2a5a98"/>
<path d="M449.2,167.3 L451.7,169.8 L449.2,172.3 L446.7,169.8 Z" fill="#2a5a98"/>
<path d="M453.0,163.4 L455.5,165.9 L453.0,168.4 L450.5,165.9 Z" fill="#2a5a98"/>
<path d="M448.0,182.3 L450.5,184.8 L448.0,187.3 L445.5,184.8 Z" fill="#2a5a98"/>
<path d="M504.3,67.0 L506.8,69.5 L504.3,72.0 L501.8,69.5 Z" fill="#2e2e88"/>
<path d="M505.0,70.5 L507.5,73.0 L505.0,75.5 L502.5,73.0 Z" fill="#2e2e88"/>
<path d="M505.5,72.9 L508.0,75.4 L505.5,77.9 L503.0,75.4 Z" fill="#2e2e88"/>
<path d="M504.3,85.9 L506.8,88.4 L504.3,90.9 L501.8,88.4 Z" fill="#2e2e88"/>
<path d="M506.0,88.3 L508.5,90.8 L506.0,93.3 L503.5,90.8 Z" fill="#2e2e88"/>
<path d="M505.0,93.0 L507.5,95.5 L505.0,98.0 L502.5,95.5 Z" fill="#2e2e88"/>
<path d="M504.3,106.1 L506.8,108.6 L504.3,111.1 L501.8,108.6 Z" fill="#2e2e88"/>
<path d="M509.0,116.7 L511.5,119.2 L509.0,121.7 L506.5,119.2 Z" fill="#2e2e88"/>
<path d="M506.0,121.5 L508.5,124.0 L506.0,126.5 L503.5,124.0 Z" fill="#2e2e88"/>
<path d="M511.4,122.7 L513.9,125.2 L511.4,127.7 L508.9,125.2 Z" fill="#2e2e88"/>
<path d="M507.8,127.4 L510.3,129.9 L507.8,132.4 L505.3,129.9 Z" fill="#2e2e88"/>
<path d="M505.5,129.8 L508.0,132.3 L505.5,134.8 L503.0,132.3 Z" fill="#2e2e88"/>
<path d="M512.6,128.6 L515.1,131.1 L512.6,133.6 L510.1,131.1 Z" fill="#2e2e88"/>
<path d="M509.0,132.1 L511.5,134.6 L509.0,137.1 L506.5,134.6 Z" fill="#2e2e88"/>
<path d="M505.0,133.3 L507.5,135.8 L505.0,138.3 L502.5,135.8 Z" fill="#2e2e88"/>
<path d="M515.0,139.3 L517.5,141.8 L515.0,144.3 L512.5,141.8 Z" fill="#2e2e88"/>
<path d="M512.6,141.6 L515.1,144.1 L512.6,146.6 L510.1,144.1 Z" fill="#2e2e88"/>
<path d="M506.7,146.4 L509.2,148.9 L506.7,151.4 L504.2,148.9 Z" fill="#2e2e88"/>
<path d="M512.1,146.4 L514.6,148.9 L512.1,151.4 L509.6,148.9 Z" fill="#2e2e88"/>
<path d="M505.0,153.5 L507.5,156.0 L505.0,158.5 L502.5,156.0 Z" fill="#2e2e88"/>
<path d="M510.7,153.5 L513.2,156.0 L510.7,158.5 L508.2,156.0 Z" fill="#2e2e88"/>
<path d="M509.0,159.4 L511.5,161.9 L509.0,164.4 L506.5,161.9 Z" fill="#2e2e88"/>
<path d="M516.9,159.4 L519.4,161.9 L516.9,164.4 L514.4,161.9 Z" fill="#2e2e88"/>
<path d="M509.0,164.1 L511.5,166.6 L509.0,169.1 L506.5,166.6 Z" fill="#2e2e88"/>
<path d="M504.3,170.1 L506.8,172.6 L504.3,175.1 L501.8,172.6 Z" fill="#2e2e88"/>
<path d="M513.8,177.2 L516.3,179.7 L513.8,182.2 L511.3,179.7 Z" fill="#2e2e88"/>
<path d="M258.6,60.1 L261.1,62.6 L258.6,65.1 L256.1,62.6 Z" fill="#cfe3da"/>
<path d="M258.6,68.0 L261.1,70.5 L258.6,73.0 L256.1,70.5 Z" fill="#cfe3da"/>
<path d="M260.0,74.7 L262.5,77.2 L260.0,79.7 L257.5,77.2 Z" fill="#cfe3da"/>
<path d="M573.6,68.4 L575.9,70.7 L573.6,73.0 L571.3000000000001,70.7 Z" fill="#fff" stroke="#c0453a" stroke-width="1"/>
<path d="M583.8,82.60000000000001 L586.0999999999999,84.9 L583.8,87.2 L581.5,84.9 Z" fill="#fff" stroke="#c0453a" stroke-width="1"/>
<path d="M573.6,88.5 L575.9,90.8 L573.6,93.1 L571.3000000000001,90.8 Z" fill="#fff" stroke="#c0453a" stroke-width="1"/>
<path d="M576.7,88.0 L579.0,90.3 L576.7,92.6 L574.4000000000001,90.3 Z" fill="#fff" stroke="#c0453a" stroke-width="1"/>
<path d="M580.3,88.5 L582.5999999999999,90.8 L580.3,93.1 L578.0,90.8 Z" fill="#fff" stroke="#c0453a" stroke-width="1"/>
<path d="M576.7,95.10000000000001 L579.0,97.4 L576.7,99.7 L574.4000000000001,97.4 Z" fill="#fff" stroke="#c0453a" stroke-width="1"/>
<path d="M583.8,101.5 L586.0999999999999,103.8 L583.8,106.1 L581.5,103.8 Z" fill="#fff" stroke="#c0453a" stroke-width="1"/>
<path d="M573.6,107.5 L575.9,109.8 L573.6,112.1 L571.3000000000001,109.8 Z" fill="#fff" stroke="#c0453a" stroke-width="1"/>
<path d="M580.3,106.3 L582.5999999999999,108.6 L580.3,110.89999999999999 L578.0,108.6 Z" fill="#fff" stroke="#c0453a" stroke-width="1"/>
<path d="M573.6,120.5 L575.9,122.8 L573.6,125.1 L571.3000000000001,122.8 Z" fill="#fff" stroke="#c0453a" stroke-width="1"/>
<path d="M583.1,127.60000000000001 L585.4,129.9 L583.1,132.20000000000002 L580.8000000000001,129.9 Z" fill="#fff" stroke="#c0453a" stroke-width="1"/>
<path d="M576.7,148.2 L579.0,150.5 L576.7,152.8 L574.4000000000001,150.5 Z" fill="#fff" stroke="#c0453a" stroke-width="1"/>
<path d="M580.3,159.1 L582.5999999999999,161.4 L580.3,163.70000000000002 L578.0,161.4 Z" fill="#fff" stroke="#c0453a" stroke-width="1"/>
<ellipse cx="505.5" cy="90" rx="5.5" ry="23.2" fill="none" stroke="#d88888" stroke-width="0.9" stroke-dasharray="2,1.5"/>
<text x="511" y="54" font-size="9" text-anchor="start" fill="#c0504d" stroke="#c0504d" stroke-width="0.22" textLength="57.5" lengthAdjust="spacingAndGlyphs" >Plume-unaffected</text>
<text x="508.9" y="61.8" font-size="9" text-anchor="start" fill="#c0504d" stroke="#c0504d" stroke-width="0.22" textLength="64.5" lengthAdjust="spacingAndGlyphs" >carbon enrichments</text>
<path d="M522,63.6 L510.7,75.4" stroke="#c0504d" stroke-width="0.8" fill="none"/>
<path d="M545.9,62.4 L555.4,81.3" stroke="#c0504d" stroke-width="0.8" fill="none"/>
<text x="349" y="77" font-size="9.8" text-anchor="start" fill="#3d3550" stroke="#3d3550" stroke-width="0.22" textLength="90.4" lengthAdjust="spacingAndGlyphs" >Plume-unaffected ridges</text>
<text x="365.6" y="86" font-size="9.8" text-anchor="start" fill="#3d3550" stroke="#3d3550" stroke-width="0.22" textLength="59.4" lengthAdjust="spacingAndGlyphs" >(median values)</text>
<path d="M400,90 L407,136" stroke="#333" stroke-width="0.8" fill="none"/>
<path d="M404.5,131 L407.3,137.5 L409,130.5" stroke="#333" stroke-width="0.8" fill="none"/>
<line x1="295.5" y1="51.3" x2="295.5" y2="78.7" stroke="#444" stroke-width="0.8"/>
<line x1="293.5" y1="51.3" x2="297.5" y2="51.3" stroke="#444" stroke-width="0.8"/>
<line x1="293.5" y1="78.7" x2="297.5" y2="78.7" stroke="#444" stroke-width="0.8"/>
<rect x="292.2" y="57.2" width="6" height="13.6" fill="#fff" stroke="#444" stroke-width="0.8"/>
<line x1="292.2" y1="65" x2="298.2" y2="65" stroke="#444" stroke-width="0.7"/>
<circle cx="295.2" cy="60.8" r="0.9" fill="#222"/>
<text x="303.7" y="53.4" font-size="7.3" text-anchor="start" fill="#222" stroke="#222" stroke-width="0.22" textLength="27" lengthAdjust="spacingAndGlyphs" >Maximum</text>
<text x="303.7" y="61.3" font-size="7.3" text-anchor="start" fill="#222" stroke="#222" stroke-width="0.22" textLength="39.7" lengthAdjust="spacingAndGlyphs" >75 percentiles</text>
<text x="305" y="72.6" font-size="7.3" text-anchor="start" fill="#222" stroke="#222" stroke-width="0.22" textLength="39" lengthAdjust="spacingAndGlyphs" >25 percentiles</text>
<text x="303.7" y="81.8" font-size="7.3" text-anchor="start" fill="#222" stroke="#222" stroke-width="0.22" textLength="25.3" lengthAdjust="spacingAndGlyphs" >Minimum</text>
<text x="256.3" y="60.1" font-size="7.3" text-anchor="start" fill="#222" stroke="#222" stroke-width="0.22" textLength="31.7" lengthAdjust="spacingAndGlyphs" >Mean value</text>
<text x="268" y="69.6" font-size="7.3" text-anchor="start" fill="#222" stroke="#222" stroke-width="0.22" textLength="20" lengthAdjust="spacingAndGlyphs" >Median</text>
<path d="M297.5,51.3 L303,51.3 M298.2,58 L303,58 M298.5,70.3 L304,70.3 M297.5,78.7 L303,78.7 M288.5,57.5 L292.2,59 M288.5,67 L292.2,67" stroke="#444" stroke-width="0.6" fill="none"/>
<defs><clipPath id="mapclip"><rect x="46" y="226.3" width="362" height="150.0"/></clipPath><filter id="bl1" x="-20%" y="-20%" width="140%" height="140%"><feGaussianBlur stdDeviation="1.2"/></filter><filter id="bl2" x="-20%" y="-20%" width="140%" height="140%"><feGaussianBlur stdDeviation="2.5"/></filter><filter id="bl4" x="-30%" y="-30%" width="160%" height="160%"><feGaussianBlur stdDeviation="4"/></filter><filter id="rough" x="0" y="0" width="100%" height="100%"><feTurbulence type="fractalNoise" baseFrequency="0.18 0.3" numOctaves="2" seed="3"/><feColorMatrix type="matrix" values="0 0 0 0 0.55  0 0 0 0 0.62  0 0 0 0 0.78  0 0 0 1.6 -0.75"/></filter><linearGradient id="deep" x1="0" y1="0" x2="0" y2="1"><stop offset="0" stop-color="#4a546f"/><stop offset="1" stop-color="#4c5874"/></linearGradient><linearGradient id="elev" x1="0" y1="0" x2="0" y2="1"><stop offset="0" stop-color="#b4b4ae"/><stop offset="0.1" stop-color="#bab6aa"/><stop offset="0.4" stop-color="#b8aa8c"/><stop offset="0.65" stop-color="#b09468"/><stop offset="0.82" stop-color="#9c9c68"/><stop offset="1" stop-color="#78a462"/></linearGradient><linearGradient id="wdep" x1="0" y1="0" x2="0" y2="1"><stop offset="0" stop-color="#a8b8c4"/><stop offset="0.17" stop-color="#88acb4"/><stop offset="0.2" stop-color="#62a090"/><stop offset="0.36" stop-color="#5a9a94"/><stop offset="0.38" stop-color="#4a7ca4"/><stop offset="0.54" stop-color="#4a6c94"/><stop offset="0.56" stop-color="#3e5a80"/><stop offset="0.72" stop-color="#3a4c6e"/><stop offset="0.74" stop-color="#36405e"/><stop offset="0.9" stop-color="#343a50"/><stop offset="0.92" stop-color="#2e3240"/><stop offset="1" stop-color="#2c2e38"/></linearGradient></defs>
<filter id="hi" x="0" y="0" width="100%" height="100%"><feTurbulence type="fractalNoise" baseFrequency="0.11 0.18" numOctaves="3" seed="5" result="n"/><feColorMatrix in="n" type="matrix" values="0 0 0 0 0  0 0 0 0 0  0 0 0 0 0  1 0 0 0 0" result="a"/><feDiffuseLighting in="a" surfaceScale="5" diffuseConstant="1" lighting-color="#ffffff" result="l"><feDistantLight azimuth="235" elevation="50"/></feDiffuseLighting><feColorMatrix in="l" type="matrix" values="0 0 0 0 0.75  0 0 0 0 0.8  0 0 0 0 0.9  2.5 0 0 0 -2.0"/></filter>
<filter id="sh" x="0" y="0" width="100%" height="100%"><feTurbulence type="fractalNoise" baseFrequency="0.11 0.18" numOctaves="3" seed="5" result="n"/><feColorMatrix in="n" type="matrix" values="0 0 0 0 0  0 0 0 0 0  0 0 0 0 0  1 0 0 0 0" result="a"/><feDiffuseLighting in="a" surfaceScale="5" diffuseConstant="1" lighting-color="#ffffff" result="l"><feDistantLight azimuth="235" elevation="50"/></feDiffuseLighting><feColorMatrix in="l" type="matrix" values="0 0 0 0 0.1  0 0 0 0 0.12  0 0 0 0 0.2  -2.5 0 0 0 1.9"/></filter>
<mask id="rmask" maskUnits="userSpaceOnUse" x="0" y="200" width="600" height="200"><rect x="46" y="226" width="362" height="150" fill="#1a1a1a"/><g filter="url(#bl4)"><path d="M60,278 L130,276 L200,280 L260,284 L300,286 L370,288 L370,316 L300,318 L200,326 L120,324 L60,320 Z" fill="#fff"/><path d="M80,262 L125,262 L125,280 L80,280 Z" fill="#888"/><path d="M214,226 L380,226 L368,248 L299,236 L242,254 Z" fill="#999"/><path d="M250,372 L300,352 L408,332 L408,350 L300,366 Z" fill="#666"/><path d="M46,350 L55,336 L68,330 L85,331 L100,337 L113,343 L117,355 L115,368 L109,378 L46,378 Z" fill="#bbb"/><path d="M84,226 L116,226 L118,262 L114,270 L86,268 Z" fill="#aaa"/></g></mask>
<mask id="rmask2" maskUnits="userSpaceOnUse" x="0" y="200" width="600" height="200"><rect x="46" y="226" width="362" height="150" fill="#1a1a1a"/><g filter="url(#bl4)"><path d="M60,278 L130,276 L200,280 L260,284 L300,286 L370,288 L370,316 L300,318 L200,326 L120,324 L60,320 Z" fill="#fff"/><path d="M80,262 L125,262 L125,280 L80,280 Z" fill="#888"/><path d="M214,226 L380,226 L368,248 L299,236 L242,254 Z" fill="#999"/><path d="M250,372 L300,352 L408,332 L408,350 L300,366 Z" fill="#222"/><path d="M46,350 L55,336 L68,330 L85,331 L100,337 L113,343 L117,355 L115,368 L109,378 L46,378 Z" fill="#000"/><path d="M84,226 L120,226 L124,262 L120,276 L86,272 Z" fill="#000"/></g></mask>
<g clip-path="url(#mapclip)">
<rect x="46" y="226.3" width="362" height="150.0" fill="url(#deep)"/>
<g filter="url(#bl4)"><path d="M50,280 L130,272 L200,276 L300,266 L408,268 L408,318 L300,322 L200,332 L120,328 L50,328 Z" fill="#4a5676"/></g>
<g filter="url(#bl4)"><path d="M190,376 L240,358 L300,346 L360,336 L408,326 L408,376 Z" fill="#4d6688"/></g>
<g filter="url(#bl2)"><path d="M46,276 L70,272 L90,270 L122,272 L118,292 L90,296 L60,306 L46,318 Z" fill="#55678a"/></g>
<g filter="url(#bl1)"><path d="M210,222 L382,222 L382,248 L368,254 L350,248 L320,242 L299,236 L260,248 L242,257 L228,251 Z" fill="#4e6a8c"/></g>
<g filter="url(#bl1)"><path d="M82,222 L114,222 L117,238 L117,266 L110,270 L98,268 L84,268 Z" fill="#6ea890"/></g>
<g filter="url(#bl2)"><path d="M78,222 L98,222 L100,236 L96,250 L90,262 L78,264 Z" fill="#b0c8c0"/></g>
<g filter="url(#bl1)"><path d="M72,222 L84,222 L82,248 L78,266 L72,282 L64,296 L54,306 L44,316 L44,268 L58,266 L68,256 Z" fill="#c0c8c8"/></g>
<g filter="url(#bl1)"><path d="M44,222 L76,222 L76,244 L70,258 L62,268 L50,274 L44,275 Z" fill="#a89872"/></g>
<circle cx="58.7" cy="252.7" r="1.7" fill="#c0b088" opacity="0.7"/>
<circle cx="51.3" cy="264.0" r="1.3" fill="#98a070" opacity="0.7"/>
<circle cx="68.2" cy="231.3" r="1.1" fill="#8c7c58" opacity="0.7"/>
<circle cx="57.1" cy="247.8" r="1.5" fill="#98a070" opacity="0.7"/>
<circle cx="50.4" cy="227.7" r="1.3" fill="#8c7c58" opacity="0.7"/>
<circle cx="47.0" cy="267.5" r="1.4" fill="#c0b088" opacity="0.7"/>
<circle cx="55.1" cy="254.2" r="1.0" fill="#8c7c58" opacity="0.7"/>
<circle cx="65.8" cy="241.5" r="1.0" fill="#c0b088" opacity="0.7"/>
<circle cx="46.8" cy="252.9" r="0.9" fill="#8c7c58" opacity="0.7"/>
<circle cx="46.0" cy="236.6" r="1.7" fill="#c0b088" opacity="0.7"/>
<circle cx="57.8" cy="253.0" r="1.0" fill="#98a070" opacity="0.7"/>
<circle cx="53.6" cy="231.0" r="1.1" fill="#c0b088" opacity="0.7"/>
<circle cx="67.2" cy="232.4" r="1.0" fill="#8c7c58" opacity="0.7"/>
<circle cx="46.3" cy="248.4" r="1.3" fill="#98a070" opacity="0.7"/>
<circle cx="61.7" cy="247.6" r="1.0" fill="#98a070" opacity="0.7"/>
<circle cx="56.7" cy="245.2" r="1.8" fill="#8c7c58" opacity="0.7"/>
<circle cx="64.0" cy="231.6" r="1.8" fill="#8c7c58" opacity="0.7"/>
<circle cx="58.4" cy="227.4" r="1.4" fill="#c0b088" opacity="0.7"/>
<circle cx="56.8" cy="230.4" r="1.0" fill="#98a070" opacity="0.7"/>
<circle cx="52.8" cy="254.7" r="1.2" fill="#c0b088" opacity="0.7"/>
<circle cx="49.6" cy="254.0" r="1.6" fill="#8c7c58" opacity="0.7"/>
<circle cx="51.3" cy="261.0" r="1.7" fill="#8c7c58" opacity="0.7"/>
<circle cx="59.5" cy="230.6" r="0.8" fill="#8c7c58" opacity="0.7"/>
<circle cx="47.1" cy="271.3" r="1.0" fill="#98a070" opacity="0.7"/>
<circle cx="57.0" cy="246.4" r="1.7" fill="#c0b088" opacity="0.7"/>
<circle cx="54.2" cy="235.1" r="1.5" fill="#8c7c58" opacity="0.7"/>
<circle cx="49.5" cy="249.0" r="1.5" fill="#98a070" opacity="0.7"/>
<circle cx="63.2" cy="239.9" r="1.7" fill="#8c7c58" opacity="0.7"/>
<circle cx="67.0" cy="230.2" r="1.2" fill="#8c7c58" opacity="0.7"/>
<circle cx="47.7" cy="235.1" r="1.2" fill="#98a070" opacity="0.7"/>
<g filter="url(#bl1)"><path d="M44,342 L52,334 L62,329 L72,330 L85,328 L98,334 L108,338 L114,346 L117,356 L115,368 L109,378 L44,378 Z" fill="#8ab4a6"/></g>
<g filter="url(#bl2)"><path d="M56,352 L70,340 L88,340 L102,347 L108,360 L100,374 L60,374 Z" fill="#a6c4b6"/></g>
<g filter="url(#bl1)"><path d="M214,222 L382,222 L380,244 L368,250 L350,244 L320,238 L299,232 L262,244 L243,252 L232,246 Z" fill="#62a096"/></g>
<g filter="url(#bl2)"><path d="M222,222 L376,222 L370,236 L350,238 L320,232 L299,228 L262,236 L240,238 Z" fill="#80b4a8"/></g>
<ellipse cx="245.8" cy="231.4" rx="2.2" ry="0.8" fill="#b0d0c8" opacity="0.6"/>
<ellipse cx="334.9" cy="232.3" rx="3.4" ry="0.8" fill="#b0d0c8" opacity="0.6"/>
<ellipse cx="313.5" cy="237.1" rx="2.4" ry="0.8" fill="#b0d0c8" opacity="0.6"/>
<ellipse cx="278.6" cy="229.7" rx="1.6" ry="0.8" fill="#b0d0c8" opacity="0.6"/>
<ellipse cx="314.8" cy="226.9" rx="1.6" ry="0.8" fill="#b0d0c8" opacity="0.6"/>
<ellipse cx="271.7" cy="227.6" rx="1.6" ry="0.8" fill="#b0d0c8" opacity="0.6"/>
<ellipse cx="293.0" cy="230.4" rx="1.6" ry="0.8" fill="#b0d0c8" opacity="0.6"/>
<ellipse cx="365.4" cy="234.8" rx="1.8" ry="0.8" fill="#b0d0c8" opacity="0.6"/>
<ellipse cx="369.5" cy="230.1" rx="1.7" ry="0.8" fill="#b0d0c8" opacity="0.6"/>
<ellipse cx="296.0" cy="226.9" rx="3.2" ry="0.8" fill="#b0d0c8" opacity="0.6"/>
<ellipse cx="366.6" cy="226.4" rx="2.5" ry="0.8" fill="#b0d0c8" opacity="0.6"/>
<ellipse cx="227.2" cy="233.9" rx="2.3" ry="0.8" fill="#b0d0c8" opacity="0.6"/>
<ellipse cx="226.9" cy="226.9" rx="1.7" ry="0.8" fill="#b0d0c8" opacity="0.6"/>
<ellipse cx="242.3" cy="229.1" rx="2.3" ry="0.8" fill="#b0d0c8" opacity="0.6"/>
<ellipse cx="274.5" cy="237.2" rx="2.9" ry="0.8" fill="#b0d0c8" opacity="0.6"/>
<ellipse cx="293.7" cy="231.6" rx="2.6" ry="0.8" fill="#b0d0c8" opacity="0.6"/>
<ellipse cx="302.8" cy="232.2" rx="2.1" ry="0.8" fill="#b0d0c8" opacity="0.6"/>
<ellipse cx="238.2" cy="226.3" rx="3.4" ry="0.8" fill="#b0d0c8" opacity="0.6"/>
<ellipse cx="241.9" cy="235.4" rx="2.8" ry="0.8" fill="#b0d0c8" opacity="0.6"/>
<ellipse cx="297.9" cy="236.8" rx="2.2" ry="0.8" fill="#b0d0c8" opacity="0.6"/>
<ellipse cx="246.5" cy="233.3" rx="2.5" ry="0.8" fill="#b0d0c8" opacity="0.6"/>
<ellipse cx="338.1" cy="230.1" rx="3.4" ry="0.8" fill="#b0d0c8" opacity="0.6"/>
<ellipse cx="299.7" cy="228.9" rx="2.3" ry="0.8" fill="#b0d0c8" opacity="0.6"/>
<ellipse cx="262.6" cy="233.6" rx="3.1" ry="0.8" fill="#b0d0c8" opacity="0.6"/>
<ellipse cx="338.2" cy="228.4" rx="1.9" ry="0.8" fill="#b0d0c8" opacity="0.6"/>
<ellipse cx="257.9" cy="237.0" rx="1.9" ry="0.8" fill="#b0d0c8" opacity="0.6"/>
<ellipse cx="245.2" cy="230.2" rx="3.3" ry="0.8" fill="#b0d0c8" opacity="0.6"/>
<ellipse cx="231.1" cy="226.8" rx="3.5" ry="0.8" fill="#b0d0c8" opacity="0.6"/>
<ellipse cx="348.3" cy="227.4" rx="2.4" ry="0.8" fill="#b0d0c8" opacity="0.6"/>
<ellipse cx="363.9" cy="236.0" rx="2.3" ry="0.8" fill="#b0d0c8" opacity="0.6"/>
<ellipse cx="303.0" cy="234.1" rx="2.9" ry="0.8" fill="#b0d0c8" opacity="0.6"/>
<ellipse cx="351.3" cy="233.5" rx="2.1" ry="0.8" fill="#b0d0c8" opacity="0.6"/>
<ellipse cx="349.3" cy="229.3" rx="2.7" ry="0.8" fill="#b0d0c8" opacity="0.6"/>
<ellipse cx="326.7" cy="229.4" rx="2.2" ry="0.8" fill="#b0d0c8" opacity="0.6"/>
<ellipse cx="322.4" cy="232.8" rx="2.8" ry="0.8" fill="#b0d0c8" opacity="0.6"/>
<ellipse cx="285.8" cy="228.3" rx="3.0" ry="0.8" fill="#b0d0c8" opacity="0.6"/>
<ellipse cx="265.0" cy="235.4" rx="3.1" ry="0.8" fill="#b0d0c8" opacity="0.6"/>
<ellipse cx="372.6" cy="227.4" rx="1.7" ry="0.8" fill="#b0d0c8" opacity="0.6"/>
<ellipse cx="305.3" cy="233.7" rx="2.2" ry="0.8" fill="#b0d0c8" opacity="0.6"/>
<ellipse cx="236.7" cy="228.4" rx="3.1" ry="0.8" fill="#b0d0c8" opacity="0.6"/>
<g filter="url(#bl2)"><path d="M236,378 L250,368 L270,360 L300,352 L340,346 L370,339 L410,330 L410,378 Z" fill="#5a88a0"/></g>
<g filter="url(#bl1)"><path d="M190,378 L199,370 L215,367.5 L231,366 L246,363 L272,360 L300,355 L340,350 L370,343 L410,335 L410,378 Z" fill="#62ac9e"/></g>
<g filter="url(#bl1)"><path d="M290,378 L297,369 L312,362 L340,357 L370,351 L410,346 L410,378 Z" fill="#b4c2b6"/></g>
<g filter="url(#bl1)"><path d="M306,372 L310,364 L322,362 L330,368 L328,378 L306,378 Z" fill="#7c9c5a"/></g>
<g mask="url(#rmask)"><rect x="46" y="226" width="362" height="150" filter="url(#hi)" opacity="0.8"/></g><g mask="url(#rmask2)"><rect x="46" y="226" width="362" height="150" filter="url(#sh)" opacity="0.95"/></g>
<g filter="url(#bl1)"><ellipse cx="350" cy="303" rx="10" ry="3.5" fill="#1e2536"/></g>
</g>
<path d="M48,249 L102,243" fill="none" stroke="#111" stroke-width="0.9" stroke-dasharray="1,2" clip-path="url(#mapclip)"/>
<path d="M100,226 L108,265 L121,300" fill="none" stroke="#111" stroke-width="0.9" stroke-dasharray="1,2" clip-path="url(#mapclip)"/>
<path d="M127,296 L202,235 L209,226" fill="none" stroke="#111" stroke-width="0.9" stroke-dasharray="1,2" clip-path="url(#mapclip)"/>
<path d="M192,226 L258,322 L290,376" fill="none" stroke="#111" stroke-width="0.9" stroke-dasharray="1,2" clip-path="url(#mapclip)"/>
<path d="M158,325 L210,332 L253,318 L290,278 L295,235 L297,226" fill="none" stroke="#111" stroke-width="0.9" stroke-dasharray="1,2" clip-path="url(#mapclip)"/>
<path d="M290,278 L408,325" fill="none" stroke="#111" stroke-width="0.9" stroke-dasharray="1,2" clip-path="url(#mapclip)"/>
<path d="M383,305 L340,376" fill="none" stroke="#111" stroke-width="0.9" stroke-dasharray="1,2" clip-path="url(#mapclip)"/>
<path d="M158,325 L142,376" fill="none" stroke="#111" stroke-width="0.9" stroke-dasharray="1,2" clip-path="url(#mapclip)"/>
<path d="M210,332 L212,376" fill="none" stroke="#111" stroke-width="0.9" stroke-dasharray="1,2" clip-path="url(#mapclip)"/>
<path d="M49,355 L58,376" fill="none" stroke="#111" stroke-width="0.9" stroke-dasharray="1,2" clip-path="url(#mapclip)"/>
<path d="M58,336 L92,310" fill="none" stroke="#111" stroke-width="0.9" stroke-dasharray="1,2" clip-path="url(#mapclip)"/>
<path d="M47.3,331.8 L60,317 L72.4,303.7" fill="none" stroke="#111" stroke-width="1.6" stroke-dasharray="3,2"/>
<path d="M72.8,302.8 L88,299.3 L102,302.8 L120,302 L141.7,302 L169.7,305.2 L181.3,305 L200,300 L215,296 L235,303 L253,308 L267,307 L300,300 L320,300 L357,306.7" fill="none" stroke="#e8d030" stroke-width="1.6" stroke-dasharray="3,2.5"/>
<circle cx="104.3" cy="297" r="4.4" fill="#3a6cc4" stroke="#fff" stroke-width="0.8"/>
<circle cx="107.8" cy="297.5" r="4.4" fill="#3a6cc4" stroke="#fff" stroke-width="0.8"/>
<circle cx="111.3" cy="298" r="4.4" fill="#3a6cc4" stroke="#fff" stroke-width="0.8"/>
<circle cx="114.8" cy="298" r="4.4" fill="#3a6cc4" stroke="#fff" stroke-width="0.8"/>
<circle cx="118.3" cy="298.5" r="4.4" fill="#3a6cc4" stroke="#fff" stroke-width="0.8"/>
<circle cx="121.8" cy="299.3" r="4.4" fill="#3a6cc4" stroke="#fff" stroke-width="0.8"/>
<circle cx="132.8" cy="299" r="4.4" fill="#3a6cc4" stroke="#fff" stroke-width="0.8"/>
<circle cx="146.3" cy="300.5" r="4.4" fill="#78c058" stroke="#1c2a18" stroke-width="0.7"/>
<circle cx="154.5" cy="300.5" r="4.4" fill="#78c058" stroke="#1c2a18" stroke-width="0.7"/>
<circle cx="159.9" cy="300" r="4.4" fill="#78c058" stroke="#1c2a18" stroke-width="0.7"/>
<circle cx="162.7" cy="300" r="4.4" fill="#78c058" stroke="#1c2a18" stroke-width="0.7"/>
<circle cx="167.3" cy="301" r="4.4" fill="#78c058" stroke="#1c2a18" stroke-width="0.7"/>
<circle cx="185.9" cy="305.5" r="4.4" fill="#cc2a2a" stroke="#fff" stroke-width="0.8"/>
<circle cx="189.6" cy="302.3" r="4.4" fill="#cc2a2a" stroke="#fff" stroke-width="0.8"/>
<circle cx="193.3" cy="301.6" r="4.4" fill="#cc2a2a" stroke="#fff" stroke-width="0.8"/>
<circle cx="196.1" cy="300.1" r="4.4" fill="#cc2a2a" stroke="#fff" stroke-width="0.8"/>
<circle cx="199.3" cy="297.9" r="4.4" fill="#cc2a2a" stroke="#fff" stroke-width="0.8"/>
<circle cx="201.9" cy="295.8" r="4.4" fill="#cc2a2a" stroke="#fff" stroke-width="0.8"/>
<circle cx="217.8" cy="296.8" r="4.4" fill="#cc2a2a" stroke="#fff" stroke-width="0.8"/>
<circle cx="221" cy="299" r="4.4" fill="#cc2a2a" stroke="#fff" stroke-width="0.8"/>
<circle cx="224.3" cy="300.7" r="4.4" fill="#cc2a2a" stroke="#fff" stroke-width="0.8"/>
<circle cx="230.1" cy="304.4" r="4.4" fill="#cc2a2a" stroke="#fff" stroke-width="0.8"/>
<circle cx="245.9" cy="305.5" r="4.4" fill="#cc2a2a" stroke="#fff" stroke-width="0.8"/>
<circle cx="252.4" cy="308.8" r="4.4" fill="#cc2a2a" stroke="#fff" stroke-width="0.8"/>
<circle cx="286" cy="302.8" r="4.4" fill="#cc2a2a" stroke="#fff" stroke-width="0.8"/>
<text x="51.7" y="272.5" font-size="8.8" text-anchor="start" fill="#f2f2f2" stroke="#f2f2f2" stroke-width="0.22" textLength="40" lengthAdjust="spacingAndGlyphs" >Greenland</text>
<text x="221.8" y="241.2" font-size="8.8" text-anchor="start" fill="#f2f2f2" stroke="#f2f2f2" stroke-width="0.22" textLength="66.5" lengthAdjust="spacingAndGlyphs" >Lomonsov Ridge</text>
<text x="172.8" y="323.3" font-size="10.4" text-anchor="start" fill="#f6f6f6" stroke="#f6f6f6" stroke-width="0.22" textLength="61.4" lengthAdjust="spacingAndGlyphs" >Gakkel Ridge</text>
<text x="0" y="0" font-size="8.8" text-anchor="start" fill="#f2f2f2" stroke="#f2f2f2" stroke-width="0.22" textLength="45" lengthAdjust="spacingAndGlyphs" transform="translate(53.5,347) rotate(-51)">Lena Trough</text>
<text x="135" y="373.5" font-size="8.3" text-anchor="middle" fill="#f2f2f2" stroke="#f2f2f2" stroke-width="0.22" textLength="17.5" lengthAdjust="spacingAndGlyphs" >30°E</text>
<text x="172.6" y="373.5" font-size="8.3" text-anchor="middle" fill="#f2f2f2" stroke="#f2f2f2" stroke-width="0.22" textLength="17.5" lengthAdjust="spacingAndGlyphs" >45°E</text>
<text x="210" y="373.5" font-size="8.3" text-anchor="middle" fill="#f2f2f2" stroke="#f2f2f2" stroke-width="0.22" textLength="17.5" lengthAdjust="spacingAndGlyphs" >60°E</text>
<text x="291.7" y="373.5" font-size="8.3" text-anchor="middle" fill="#f2f2f2" stroke="#f2f2f2" stroke-width="0.22" textLength="17.5" lengthAdjust="spacingAndGlyphs" >90°E</text>
<rect x="50.8" y="228" width="14.2" height="11.7" fill="#fff"/>
<text x="53.6" y="237.6" font-size="10.8" text-anchor="start" fill="#111" stroke="#111" stroke-width="0.22" >b</text>
<rect x="46" y="226.3" width="362" height="150.0" fill="none" stroke="#333" stroke-width="0.8"/>
<rect x="408.5" y="227" width="185" height="146" fill="#fff"/>
<path d="M408,226.5 L593.7,226.5 L593.7,372.8 L408,372.8" fill="none" stroke="#555" stroke-width="0.9"/>
<line x1="410" y1="320" x2="593" y2="320" stroke="#999" stroke-width="0.8" stroke-dasharray="2.5,2"/>
<rect x="472.3" y="248.7" width="16.5" height="65.1" fill="url(#elev)" stroke="#333" stroke-width="0.8"/>
<line x1="488.8" y1="253.5" x2="491.5" y2="253.5" stroke="#333" stroke-width="0.7"/>
<text x="493.4" y="256.4" font-size="7.8" text-anchor="start" fill="#222" stroke="#222" stroke-width="0.22" textLength="9.3" lengthAdjust="spacingAndGlyphs" >3.0</text>
<line x1="488.8" y1="263.4" x2="491.5" y2="263.4" stroke="#333" stroke-width="0.7"/>
<line x1="472.3" y1="263.4" x2="488.8" y2="263.4" stroke="#6a6050" stroke-width="0.5" opacity="0.6"/>
<text x="493.4" y="266.3" font-size="7.8" text-anchor="start" fill="#222" stroke="#222" stroke-width="0.22" textLength="9.3" lengthAdjust="spacingAndGlyphs" >2.5</text>
<line x1="488.8" y1="273.4" x2="491.5" y2="273.4" stroke="#333" stroke-width="0.7"/>
<line x1="472.3" y1="273.4" x2="488.8" y2="273.4" stroke="#6a6050" stroke-width="0.5" opacity="0.6"/>
<text x="493.4" y="276.3" font-size="7.8" text-anchor="start" fill="#222" stroke="#222" stroke-width="0.22" textLength="9.3" lengthAdjust="spacingAndGlyphs" >2.0</text>
<line x1="488.8" y1="283.4" x2="491.5" y2="283.4" stroke="#333" stroke-width="0.7"/>
<line x1="472.3" y1="283.4" x2="488.8" y2="283.4" stroke="#6a6050" stroke-width="0.5" opacity="0.6"/>
<text x="493.4" y="286.2" font-size="7.8" text-anchor="start" fill="#222" stroke="#222" stroke-width="0.22" textLength="9.3" lengthAdjust="spacingAndGlyphs" >1.5</text>
<line x1="488.8" y1="293.3" x2="491.5" y2="293.3" stroke="#333" stroke-width="0.7"/>
<line x1="472.3" y1="293.3" x2="488.8" y2="293.3" stroke="#6a6050" stroke-width="0.5" opacity="0.6"/>
<text x="493.4" y="296.2" font-size="7.8" text-anchor="start" fill="#222" stroke="#222" stroke-width="0.22" textLength="9.3" lengthAdjust="spacingAndGlyphs" >1.0</text>
<line x1="488.8" y1="303.2" x2="491.5" y2="303.2" stroke="#333" stroke-width="0.7"/>
<line x1="472.3" y1="303.2" x2="488.8" y2="303.2" stroke="#6a6050" stroke-width="0.5" opacity="0.6"/>
<text x="493.4" y="306.1" font-size="7.8" text-anchor="start" fill="#222" stroke="#222" stroke-width="0.22" textLength="9.3" lengthAdjust="spacingAndGlyphs" >0.5</text>
<line x1="488.8" y1="313.2" x2="491.5" y2="313.2" stroke="#333" stroke-width="0.7"/>
<text x="493.4" y="316.1" font-size="7.8" text-anchor="start" fill="#222" stroke="#222" stroke-width="0.22" textLength="9.3" lengthAdjust="spacingAndGlyphs" >0.0</text>
<line x1="472.3" y1="253.5" x2="488.8" y2="253.5" stroke="#444" stroke-width="0.8"/>
<text x="462.5" y="239.7" font-size="8.6" text-anchor="start" fill="#222" stroke="#222" stroke-width="0.22" textLength="46.6" lengthAdjust="spacingAndGlyphs" >Elevation (km)</text>
<rect x="536.2" y="248.3" width="15.4" height="65.5" fill="url(#wdep)" stroke="#333" stroke-width="0.8"/>
<line x1="551.6" y1="250.5" x2="555" y2="250.5" stroke="#333" stroke-width="0.7"/>
<text x="556.4" y="253.4" font-size="7.8" text-anchor="start" fill="#222" stroke="#222" stroke-width="0.22" textLength="9.3" lengthAdjust="spacingAndGlyphs" >0.0</text>
<line x1="551.6" y1="261.9" x2="555" y2="261.9" stroke="#333" stroke-width="0.7"/>
<line x1="536.2" y1="261.9" x2="551.6" y2="261.9" stroke="#223" stroke-width="0.6" opacity="0.7"/>
<text x="556.4" y="264.8" font-size="7.8" text-anchor="start" fill="#222" stroke="#222" stroke-width="0.22" textLength="9.3" lengthAdjust="spacingAndGlyphs" >1.0</text>
<line x1="551.6" y1="273.3" x2="555" y2="273.3" stroke="#333" stroke-width="0.7"/>
<line x1="536.2" y1="273.3" x2="551.6" y2="273.3" stroke="#223" stroke-width="0.6" opacity="0.7"/>
<text x="556.4" y="276.2" font-size="7.8" text-anchor="start" fill="#222" stroke="#222" stroke-width="0.22" textLength="9.3" lengthAdjust="spacingAndGlyphs" >2.0</text>
<line x1="551.6" y1="284.7" x2="555" y2="284.7" stroke="#333" stroke-width="0.7"/>
<line x1="536.2" y1="284.7" x2="551.6" y2="284.7" stroke="#223" stroke-width="0.6" opacity="0.7"/>
<text x="556.4" y="287.6" font-size="7.8" text-anchor="start" fill="#222" stroke="#222" stroke-width="0.22" textLength="9.3" lengthAdjust="spacingAndGlyphs" >3.0</text>
<line x1="551.6" y1="296.1" x2="555" y2="296.1" stroke="#333" stroke-width="0.7"/>
<line x1="536.2" y1="296.1" x2="551.6" y2="296.1" stroke="#223" stroke-width="0.6" opacity="0.7"/>
<text x="556.4" y="299.0" font-size="7.8" text-anchor="start" fill="#222" stroke="#222" stroke-width="0.22" textLength="9.3" lengthAdjust="spacingAndGlyphs" >4.0</text>
<line x1="551.6" y1="307.5" x2="555" y2="307.5" stroke="#333" stroke-width="0.7"/>
<line x1="536.2" y1="307.5" x2="551.6" y2="307.5" stroke="#223" stroke-width="0.6" opacity="0.7"/>
<text x="556.4" y="310.4" font-size="7.8" text-anchor="start" fill="#222" stroke="#222" stroke-width="0.22" textLength="9.3" lengthAdjust="spacingAndGlyphs" >5.0</text>
<text x="526.2" y="239.7" font-size="8.6" text-anchor="start" fill="#222" stroke="#222" stroke-width="0.22" textLength="56" lengthAdjust="spacingAndGlyphs" >Water depth (km)</text>
<text x="417.9" y="353.5" font-size="11" text-anchor="start" fill="#111" stroke="#111" stroke-width="0.22" textLength="80" lengthAdjust="spacingAndGlyphs" >MORB samples</text>
<circle cx="512.9" cy="339.2" r="2.6" fill="#2a5ea8" stroke="none" stroke-width="0.7"/>
<text x="519.1" y="342.4" font-size="8.2" text-anchor="start" fill="#222" stroke="#222" stroke-width="0.22" textLength="65.6" lengthAdjust="spacingAndGlyphs" >WVZ (this study)</text>
<circle cx="512.9" cy="349.7" r="3.3" fill="#8cc870" stroke="#2c3c24" stroke-width="0.7"/>
<text x="519.1" y="353.5" font-size="8.2" text-anchor="start" fill="#222" stroke="#222" stroke-width="0.22" textLength="65.6" lengthAdjust="spacingAndGlyphs" >SMZ (this study)</text>
<circle cx="512.9" cy="365.2" r="2.8" fill="#b51f22" stroke="none" stroke-width="0.7"/>
<text x="519.1" y="368.4" font-size="8.2" text-anchor="start" fill="#222" stroke="#222" stroke-width="0.22" textLength="63.6" lengthAdjust="spacingAndGlyphs" >EVZ (this study)</text>
<clipPath id="globe"><circle cx="409.1" cy="267.6" r="43.3"/></clipPath>
<circle cx="409.1" cy="267.6" r="43.3" fill="#fff"/>
<g clip-path="url(#globe)" fill="#cdcdcd">
<path d="M385.8,229.3 L403.7,224 L421.5,226 L434.5,236.6 L437.8,246.4 L432.9,248 L424.8,244.8 L416.7,241.5 L410.2,246.4 L403.7,244.8 L395.5,249.6 L387.4,251.3 L377.6,246.4 L374.4,239.9 L380.9,235 Z"/>
<path d="M362,256 L382.5,254.1 L395.5,258.4 L400.4,264.3 L397.2,270.8 L387.4,274 L376,272.4 L362,270 Z"/>
<path d="M432.9,244.8 L444.3,240 L456,254.5 L456,270.8 L452,290.3 L434.5,298.8 L424.8,291.9 L428,283.8 L432.9,275.7 L436.2,264.3 L434.5,254.5 Z"/>
<path d="M379.3,287 L395.5,285.4 L411.8,287 L424.8,291.9 L436,298.4 L432,312 L408.5,314 L389,310 L372,298 Z"/>
<path d="M366,276 L374,279 L371,288 L365,284 Z"/>
<ellipse cx="392" cy="241" rx="2.5" ry="1.2" fill="#fff"/>
<ellipse cx="398" cy="236" rx="1.5" ry="1" fill="#fff"/>
<ellipse cx="405" cy="239" rx="2" ry="1.5" fill="#fff"/>
<ellipse cx="412" cy="233" rx="1.6" ry="1" fill="#fff"/>
<ellipse cx="418" cy="238" rx="2.5" ry="1" fill="#fff"/>
<ellipse cx="386" cy="245" rx="1.5" ry="1" fill="#fff"/>
<ellipse cx="426" cy="240" rx="1.5" ry="1" fill="#fff"/>
<ellipse cx="444" cy="262" rx="1" ry="2.5" fill="#fff"/>
<ellipse cx="398" cy="297" rx="2.5" ry="1" fill="#fff"/>
<ellipse cx="414" cy="301" rx="2" ry="0.8" fill="#fff"/>
<ellipse cx="380" cy="262" rx="2" ry="1" fill="#fff"/>
<ellipse cx="388" cy="266" rx="1.5" ry="1" fill="#fff"/>
<ellipse cx="440" cy="280" rx="1.2" ry="2" fill="#fff"/>
<ellipse cx="420" cy="296" rx="1.5" ry="1" fill="#fff"/>
</g>
<circle cx="409.1" cy="267.6" r="43.3" fill="none" stroke="#3a3a3a" stroke-width="1"/>
<path d="M375.2,278.1 C377,278.3 379,278.5 381,280.5 C384,283.5 386,286.5 388.5,286 C391.5,285 393,279 395.5,276 C397.5,273.5 399.5,272.6 402,272.4" fill="none" stroke="#333" stroke-width="1"/>
<path d="M402,272.4 C406,272.6 409,273.3 412,273.2 C415,273 417,272.5 419,272.8 C422,273.3 424,274 426.4,274.4" fill="none" stroke="#d04848" stroke-width="1"/>
<text x="389.8" y="269.2" font-size="8" text-anchor="start" fill="#c84848" stroke="#c84848" stroke-width="0.22" textLength="45.6" lengthAdjust="spacingAndGlyphs" >Gakkel Ridge</text>
<defs><linearGradient id="gband" x1="0" y1="0" x2="0" y2="1"><stop offset="0" stop-color="#fff"/><stop offset="0.25" stop-color="#d8d8d8"/><stop offset="0.5" stop-color="#828282"/><stop offset="0.75" stop-color="#d0d0d0"/><stop offset="1" stop-color="#fff"/></linearGradient><linearGradient id="bband" x1="0" y1="0" x2="0" y2="1"><stop offset="0" stop-color="#ffffff"/><stop offset="0.35" stop-color="#8fa8dc"/><stop offset="0.75" stop-color="#3a5cb0"/><stop offset="1" stop-color="#2a4c9c"/></linearGradient></defs>
<rect x="48.4" y="480" width="546.6" height="36" fill="url(#gband)"/>
<rect x="48.4" y="516" width="546.6" height="13.5" fill="url(#bband)"/>
<path d="M48.4,386.4 L595,386.4 L595,536.3 L48.4,536.3 Z" fill="none" stroke="#444" stroke-width="1"/>
<line x1="45" y1="386.1" x2="48.4" y2="386.1" stroke="#444" stroke-width="0.8"/>
<text x="40.3" y="388.7" font-size="8.2" text-anchor="end" fill="#222" stroke="#222" stroke-width="0.22" textLength="14.3" lengthAdjust="spacingAndGlyphs" >0.45</text>
<line x1="45" y1="416.1" x2="48.4" y2="416.1" stroke="#444" stroke-width="0.8"/>
<text x="40.3" y="418.7" font-size="8.2" text-anchor="end" fill="#222" stroke="#222" stroke-width="0.22" textLength="14.3" lengthAdjust="spacingAndGlyphs" >0.40</text>
<line x1="45" y1="446.1" x2="48.4" y2="446.1" stroke="#444" stroke-width="0.8"/>
<text x="40.3" y="448.7" font-size="8.2" text-anchor="end" fill="#222" stroke="#222" stroke-width="0.22" textLength="14.3" lengthAdjust="spacingAndGlyphs" >0.35</text>
<line x1="45" y1="476.1" x2="48.4" y2="476.1" stroke="#444" stroke-width="0.8"/>
<text x="40.3" y="478.7" font-size="8.2" text-anchor="end" fill="#222" stroke="#222" stroke-width="0.22" textLength="14.3" lengthAdjust="spacingAndGlyphs" >0.30</text>
<line x1="45" y1="506.1" x2="48.4" y2="506.1" stroke="#444" stroke-width="0.8"/>
<text x="40.3" y="508.7" font-size="8.2" text-anchor="end" fill="#222" stroke="#222" stroke-width="0.22" textLength="14.3" lengthAdjust="spacingAndGlyphs" >0.25</text>
<line x1="45" y1="536.1" x2="48.4" y2="536.1" stroke="#444" stroke-width="0.8"/>
<text x="40.3" y="538.7" font-size="8.2" text-anchor="end" fill="#222" stroke="#222" stroke-width="0.22" textLength="14.3" lengthAdjust="spacingAndGlyphs" >0.20</text>
<line x1="48.4" y1="536.3" x2="48.4" y2="538.8" stroke="#444" stroke-width="0.8"/>
<line x1="66.6" y1="536.3" x2="66.6" y2="538.8" stroke="#444" stroke-width="0.8"/>
<line x1="84.8" y1="536.3" x2="84.8" y2="538.8" stroke="#444" stroke-width="0.8"/>
<line x1="103.1" y1="536.3" x2="103.1" y2="538.8" stroke="#444" stroke-width="0.8"/>
<line x1="121.3" y1="536.3" x2="121.3" y2="538.8" stroke="#444" stroke-width="0.8"/>
<line x1="139.5" y1="536.3" x2="139.5" y2="538.8" stroke="#444" stroke-width="0.8"/>
<line x1="157.7" y1="536.3" x2="157.7" y2="538.8" stroke="#444" stroke-width="0.8"/>
<line x1="175.9" y1="536.3" x2="175.9" y2="538.8" stroke="#444" stroke-width="0.8"/>
<line x1="194.2" y1="536.3" x2="194.2" y2="538.8" stroke="#444" stroke-width="0.8"/>
<line x1="212.4" y1="536.3" x2="212.4" y2="538.8" stroke="#444" stroke-width="0.8"/>
<line x1="230.6" y1="536.3" x2="230.6" y2="538.8" stroke="#444" stroke-width="0.8"/>
<line x1="248.8" y1="536.3" x2="248.8" y2="538.8" stroke="#444" stroke-width="0.8"/>
<line x1="267.0" y1="536.3" x2="267.0" y2="538.8" stroke="#444" stroke-width="0.8"/>
<line x1="285.3" y1="536.3" x2="285.3" y2="538.8" stroke="#444" stroke-width="0.8"/>
<line x1="303.5" y1="536.3" x2="303.5" y2="538.8" stroke="#444" stroke-width="0.8"/>
<line x1="321.7" y1="536.3" x2="321.7" y2="538.8" stroke="#444" stroke-width="0.8"/>
<line x1="339.9" y1="536.3" x2="339.9" y2="538.8" stroke="#444" stroke-width="0.8"/>
<line x1="358.1" y1="536.3" x2="358.1" y2="538.8" stroke="#444" stroke-width="0.8"/>
<line x1="376.4" y1="536.3" x2="376.4" y2="538.8" stroke="#444" stroke-width="0.8"/>
<line x1="394.6" y1="536.3" x2="394.6" y2="538.8" stroke="#444" stroke-width="0.8"/>
<line x1="412.8" y1="536.3" x2="412.8" y2="538.8" stroke="#444" stroke-width="0.8"/>
<line x1="431.0" y1="536.3" x2="431.0" y2="538.8" stroke="#444" stroke-width="0.8"/>
<line x1="449.2" y1="536.3" x2="449.2" y2="538.8" stroke="#444" stroke-width="0.8"/>
<line x1="467.5" y1="536.3" x2="467.5" y2="538.8" stroke="#444" stroke-width="0.8"/>
<line x1="485.7" y1="536.3" x2="485.7" y2="538.8" stroke="#444" stroke-width="0.8"/>
<line x1="503.9" y1="536.3" x2="503.9" y2="538.8" stroke="#444" stroke-width="0.8"/>
<line x1="522.1" y1="536.3" x2="522.1" y2="538.8" stroke="#444" stroke-width="0.8"/>
<line x1="540.3" y1="536.3" x2="540.3" y2="538.8" stroke="#444" stroke-width="0.8"/>
<line x1="558.6" y1="536.3" x2="558.6" y2="538.8" stroke="#444" stroke-width="0.8"/>
<line x1="576.8" y1="536.3" x2="576.8" y2="538.8" stroke="#444" stroke-width="0.8"/>
<line x1="595.0" y1="536.3" x2="595.0" y2="538.8" stroke="#444" stroke-width="0.8"/>
<text x="48.4" y="546.3" font-size="9" text-anchor="middle" fill="#222" stroke="#222" stroke-width="0.22" textLength="4.6" lengthAdjust="spacingAndGlyphs" >0</text>
<text x="140" y="546.3" font-size="9" text-anchor="middle" fill="#222" stroke="#222" stroke-width="0.22" textLength="12" lengthAdjust="spacingAndGlyphs" >200</text>
<text x="230" y="546.3" font-size="9" text-anchor="middle" fill="#222" stroke="#222" stroke-width="0.22" textLength="12" lengthAdjust="spacingAndGlyphs" >400</text>
<text x="320.7" y="546.3" font-size="9" text-anchor="middle" fill="#222" stroke="#222" stroke-width="0.22" textLength="12" lengthAdjust="spacingAndGlyphs" >600</text>
<text x="411" y="546.3" font-size="9" text-anchor="middle" fill="#222" stroke="#222" stroke-width="0.22" textLength="12" lengthAdjust="spacingAndGlyphs" >800</text>
<text x="500.7" y="546.3" font-size="9" text-anchor="middle" fill="#222" stroke="#222" stroke-width="0.22" textLength="16.6" lengthAdjust="spacingAndGlyphs" >1000</text>
<text x="592.5" y="546.3" font-size="9" text-anchor="middle" fill="#222" stroke="#222" stroke-width="0.22" textLength="16.6" lengthAdjust="spacingAndGlyphs" >1200</text>
<text x="209" y="562" font-size="9.8" text-anchor="start" fill="#111" stroke="#111" stroke-width="0.22" textLength="199.4" lengthAdjust="spacingAndGlyphs" >Distance along the Arctic Gakkel Ridge (km)</text>
<text font-size="9.6" text-anchor="middle" fill="#111" stroke="#111" stroke-width="0.2" transform="translate(12.2,471) rotate(-90)" textLength="43" lengthAdjust="spacingAndGlyphs">δ<tspan font-size="6" dy="-3.5">66</tspan><tspan dy="3.5">Zn (‰)</tspan></text>
<text x="55" y="399.3" font-size="11" text-anchor="start" fill="#111" stroke="#111" stroke-width="0.22" >c</text>
<text x="438.6" y="501.6" font-size="9.5" text-anchor="start" fill="#ececec" stroke="#ececec" stroke-width="0.22" textLength="106" lengthAdjust="spacingAndGlyphs" >Global MORB (0.26±0.03‰)</text>
<text x="501" y="527.4" font-size="8.8" text-anchor="start" fill="#fff" stroke="#fff" stroke-width="0.22" textLength="70.6" lengthAdjust="spacingAndGlyphs" >1 to 12% DMM melts</text>
<line x1="55" y1="445.8" x2="55" y2="487.5" stroke="#aaa" stroke-width="1"/>
<line x1="61.3" y1="457.5" x2="61.3" y2="495" stroke="#aaa" stroke-width="1"/>
<line x1="67.8" y1="465" x2="67.8" y2="495" stroke="#aaa" stroke-width="1"/>
<line x1="82" y1="444.7" x2="82" y2="485" stroke="#aaa" stroke-width="1"/>
<line x1="90.8" y1="470" x2="90.8" y2="495" stroke="#aaa" stroke-width="1"/>
<line x1="100" y1="455" x2="100" y2="495" stroke="#aaa" stroke-width="1"/>
<line x1="104.2" y1="431.7" x2="104.2" y2="495" stroke="#aaa" stroke-width="1"/>
<line x1="104.5" y1="440" x2="104.5" y2="475" stroke="#aaa" stroke-width="1"/>
<line x1="130.3" y1="468" x2="130.3" y2="500" stroke="#aaa" stroke-width="1"/>
<line x1="177" y1="400" x2="177" y2="448.3" stroke="#aaa" stroke-width="1"/>
<line x1="177" y1="400" x2="177" y2="448" stroke="#aaa" stroke-width="1"/>
<line x1="177" y1="400" x2="177" y2="448" stroke="#aaa" stroke-width="1"/>
<line x1="177" y1="400" x2="177" y2="448" stroke="#aaa" stroke-width="1"/>
<line x1="203.3" y1="422.5" x2="203.3" y2="453" stroke="#aaa" stroke-width="1"/>
<line x1="203" y1="450" x2="203" y2="475" stroke="#aaa" stroke-width="1"/>
<line x1="203" y1="460" x2="203" y2="493" stroke="#aaa" stroke-width="1"/>
<line x1="203" y1="460" x2="203" y2="493" stroke="#aaa" stroke-width="1"/>
<line x1="224.2" y1="483.3" x2="224.2" y2="508" stroke="#aaa" stroke-width="1"/>
<line x1="234.2" y1="462.5" x2="234.2" y2="482.5" stroke="#aaa" stroke-width="1"/>
<line x1="241.3" y1="454" x2="241.3" y2="480" stroke="#aaa" stroke-width="1"/>
<line x1="245.8" y1="454" x2="245.8" y2="495" stroke="#aaa" stroke-width="1"/>
<line x1="245.8" y1="454" x2="245.8" y2="495" stroke="#aaa" stroke-width="1"/>
<line x1="245.8" y1="454" x2="245.8" y2="495" stroke="#aaa" stroke-width="1"/>
<line x1="245.8" y1="454" x2="245.8" y2="495" stroke="#aaa" stroke-width="1"/>
<line x1="298.6" y1="446" x2="298.6" y2="465.6" stroke="#aaa" stroke-width="1"/>
<line x1="313.2" y1="448" x2="313.2" y2="496" stroke="#aaa" stroke-width="1"/>
<line x1="323.6" y1="430.6" x2="323.6" y2="470" stroke="#aaa" stroke-width="1"/>
<line x1="324.7" y1="470" x2="324.7" y2="494" stroke="#aaa" stroke-width="1"/>
<line x1="347.1" y1="442.6" x2="347.1" y2="480" stroke="#aaa" stroke-width="1"/>
<line x1="347.1" y1="450" x2="347.1" y2="485" stroke="#aaa" stroke-width="1"/>
<line x1="340.6" y1="475" x2="340.6" y2="500" stroke="#aaa" stroke-width="1"/>
<line x1="340.6" y1="490" x2="340.6" y2="513.6" stroke="#aaa" stroke-width="1"/>
<line x1="396.2" y1="480" x2="396.2" y2="500" stroke="#aaa" stroke-width="1"/>
<line x1="407.3" y1="470" x2="407.3" y2="504.5" stroke="#aaa" stroke-width="1"/>
<line x1="404.2" y1="444.5" x2="404.2" y2="490" stroke="#aaa" stroke-width="1"/>
<line x1="408.6" y1="450" x2="408.6" y2="485" stroke="#aaa" stroke-width="1"/>
<line x1="410.4" y1="460" x2="410.4" y2="490" stroke="#aaa" stroke-width="1"/>
<line x1="407.3" y1="450" x2="407.3" y2="480" stroke="#aaa" stroke-width="1"/>
<line x1="404.2" y1="444.5" x2="404.2" y2="470" stroke="#aaa" stroke-width="1"/>
<line x1="409.5" y1="426.8" x2="409.5" y2="470" stroke="#aaa" stroke-width="1"/>
<line x1="414.8" y1="427.7" x2="414.8" y2="465" stroke="#aaa" stroke-width="1"/>
<line x1="480.1" y1="445" x2="480.1" y2="490.8" stroke="#aaa" stroke-width="1"/>
<line x1="480.1" y1="445" x2="480.1" y2="490.8" stroke="#aaa" stroke-width="1"/>
<line x1="480.1" y1="445" x2="480.1" y2="490.8" stroke="#aaa" stroke-width="1"/>
<line x1="545.6" y1="458" x2="545.6" y2="490.8" stroke="#aaa" stroke-width="1"/>
<line x1="545.6" y1="458" x2="545.6" y2="490.8" stroke="#aaa" stroke-width="1"/>
<line x1="545.6" y1="458" x2="545.6" y2="490.8" stroke="#aaa" stroke-width="1"/>
<circle cx="55" cy="466.7" r="5" fill="#2a5ea8" stroke="#fff" stroke-width="0.6"/>
<circle cx="61.3" cy="478.3" r="5" fill="#2a5ea8" stroke="#fff" stroke-width="0.6"/>
<circle cx="67.8" cy="477.5" r="5" fill="#2a5ea8" stroke="#fff" stroke-width="0.6"/>
<circle cx="82" cy="464.7" r="5" fill="#2a5ea8" stroke="#fff" stroke-width="0.6"/>
<circle cx="90.8" cy="482.5" r="5" fill="#2a5ea8" stroke="#fff" stroke-width="0.6"/>
<circle cx="100" cy="470.8" r="5" fill="#2a5ea8" stroke="#fff" stroke-width="0.6"/>
<circle cx="104.2" cy="469.2" r="5" fill="#2a5ea8" stroke="#fff" stroke-width="0.6"/>
<circle cx="104.5" cy="455" r="5" fill="#2a5ea8" stroke="#fff" stroke-width="0.6"/>
<circle cx="130.3" cy="483.7" r="5" fill="#2a5ea8" stroke="#fff" stroke-width="0.6"/>
<circle cx="177" cy="407.5" r="5.2" fill="#8cc870" stroke="#2c3c24" stroke-width="0.8"/>
<circle cx="177" cy="420.8" r="5.2" fill="#8cc870" stroke="#2c3c24" stroke-width="0.8"/>
<circle cx="177" cy="425.8" r="5.2" fill="#8cc870" stroke="#2c3c24" stroke-width="0.8"/>
<circle cx="177" cy="429.2" r="5.2" fill="#8cc870" stroke="#2c3c24" stroke-width="0.8"/>
<circle cx="203.3" cy="434.5" r="5.2" fill="#8cc870" stroke="#2c3c24" stroke-width="0.8"/>
<circle cx="203" cy="460.5" r="5.2" fill="#8cc870" stroke="#2c3c24" stroke-width="0.8"/>
<circle cx="203" cy="473" r="5.2" fill="#8cc870" stroke="#2c3c24" stroke-width="0.8"/>
<circle cx="203" cy="478.3" r="5.2" fill="#8cc870" stroke="#2c3c24" stroke-width="0.8"/>
<circle cx="224.2" cy="496.7" r="5.2" fill="#8cc870" stroke="#2c3c24" stroke-width="0.8"/>
<circle cx="234.2" cy="472" r="5.2" fill="#8cc870" stroke="#2c3c24" stroke-width="0.8"/>
<circle cx="241.3" cy="462" r="5.2" fill="#8cc870" stroke="#2c3c24" stroke-width="0.8"/>
<circle cx="245.8" cy="479.2" r="5.2" fill="#8cc870" stroke="#2c3c24" stroke-width="0.8"/>
<circle cx="245.8" cy="475.8" r="5.2" fill="#8cc870" stroke="#2c3c24" stroke-width="0.8"/>
<circle cx="245.8" cy="473.3" r="5.2" fill="#8cc870" stroke="#2c3c24" stroke-width="0.8"/>
<circle cx="245.8" cy="465.8" r="5.2" fill="#8cc870" stroke="#2c3c24" stroke-width="0.8"/>
<ellipse cx="340.4" cy="489.8" rx="6.5" ry="12.4" fill="none" stroke="#333" stroke-width="0.8" stroke-dasharray="1.2,1"/>
<circle cx="298.6" cy="455.9" r="5" fill="#b51f22" stroke="#fff" stroke-width="0.7"/>
<circle cx="313.2" cy="472.7" r="5" fill="#b51f22" stroke="#fff" stroke-width="0.7"/>
<circle cx="323.6" cy="453.9" r="5" fill="#b51f22" stroke="#fff" stroke-width="0.7"/>
<circle cx="324.7" cy="481.8" r="5" fill="#b51f22" stroke="#fff" stroke-width="0.7"/>
<circle cx="347.1" cy="462.4" r="5" fill="#b51f22" stroke="#fff" stroke-width="0.7"/>
<circle cx="347.1" cy="468.6" r="5" fill="#b51f22" stroke="#fff" stroke-width="0.7"/>
<circle cx="340.6" cy="484" r="5" fill="#b51f22" stroke="#fff" stroke-width="0.7"/>
<circle cx="340.6" cy="496.3" r="5" fill="#b51f22" stroke="#fff" stroke-width="0.7"/>
<circle cx="396.2" cy="490.9" r="5" fill="#b51f22" stroke="#fff" stroke-width="0.7"/>
<circle cx="407.3" cy="485.1" r="5" fill="#b51f22" stroke="#fff" stroke-width="0.7"/>
<circle cx="404.2" cy="475.4" r="5" fill="#b51f22" stroke="#fff" stroke-width="0.7"/>
<circle cx="408.6" cy="469.7" r="5" fill="#b51f22" stroke="#fff" stroke-width="0.7"/>
<circle cx="410.4" cy="477.7" r="5" fill="#b51f22" stroke="#fff" stroke-width="0.7"/>
<circle cx="407.3" cy="464.8" r="5" fill="#b51f22" stroke="#fff" stroke-width="0.7"/>
<circle cx="404.2" cy="458" r="5" fill="#b51f22" stroke="#fff" stroke-width="0.7"/>
<circle cx="409.5" cy="452.4" r="5" fill="#b51f22" stroke="#fff" stroke-width="0.7"/>
<circle cx="414.8" cy="448" r="5" fill="#b51f22" stroke="#fff" stroke-width="0.7"/>
<circle cx="480.1" cy="457.7" r="5" fill="#b51f22" stroke="#fff" stroke-width="0.7"/>
<circle cx="480.1" cy="466.2" r="5" fill="#b51f22" stroke="#fff" stroke-width="0.7"/>
<circle cx="480.1" cy="470.4" r="5" fill="#b51f22" stroke="#fff" stroke-width="0.7"/>
<circle cx="545.6" cy="465.3" r="5" fill="#b51f22" stroke="#fff" stroke-width="0.7"/>
<circle cx="545.6" cy="474.7" r="5" fill="#b51f22" stroke="#fff" stroke-width="0.7"/>
<circle cx="545.6" cy="479.5" r="5" fill="#b51f22" stroke="#fff" stroke-width="0.7"/>
<text x="349" y="517.5" font-size="8.3" text-anchor="start" fill="#222" stroke="#222" stroke-width="0.22" textLength="17.2" lengthAdjust="spacingAndGlyphs" >D297</text>
<path d="M355,508 L346,500" stroke="#333" stroke-width="0.7"/>
<text x="377.7" y="473" font-size="8.3" text-anchor="start" fill="#222" stroke="#222" stroke-width="0.22" textLength="17.3" lengthAdjust="spacingAndGlyphs" >D274</text>
<path d="M389,477 L395,486" stroke="#333" stroke-width="0.7"/>
<rect x="235" y="396" width="115.7" height="16.7" fill="#fff" stroke="#bbb" stroke-width="0.8"/>
<circle cx="242.7" cy="404.3" r="3.5" fill="#2a5ea8"/>
<text x="251.7" y="407.8" font-size="9.3" text-anchor="start" fill="#222" stroke="#222" stroke-width="0.22" textLength="18.3" lengthAdjust="spacingAndGlyphs" >WVZ</text>
<circle cx="282.7" cy="404.3" r="4" fill="#8cc870" stroke="#2c3c24" stroke-width="0.7"/>
<text x="291.7" y="407.8" font-size="9.3" text-anchor="start" fill="#222" stroke="#222" stroke-width="0.22" textLength="18.3" lengthAdjust="spacingAndGlyphs" >SMZ</text>
<circle cx="323.3" cy="404.3" r="4" fill="#b51f22"/>
<text x="330" y="407.8" font-size="9.3" text-anchor="start" fill="#222" stroke="#222" stroke-width="0.22" textLength="16.7" lengthAdjust="spacingAndGlyphs" >EVZ</text>
</svg></body></html>
